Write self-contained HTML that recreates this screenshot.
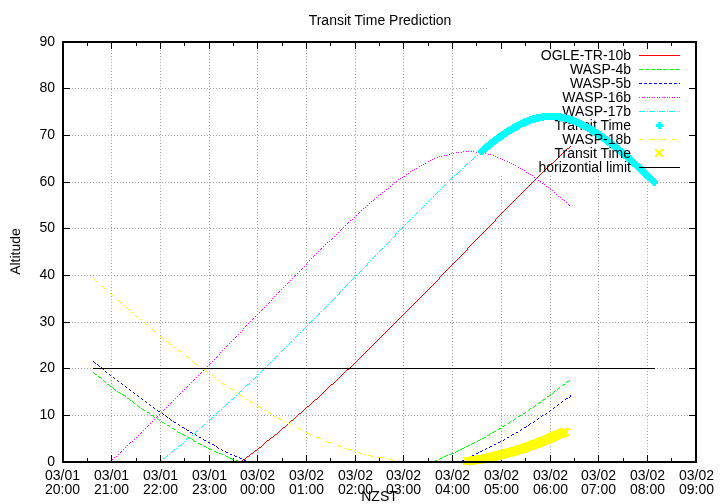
<!DOCTYPE html>
<html><head><meta charset="utf-8"><style>html,body{margin:0;padding:0;background:#fff;overflow:hidden}svg{display:block;will-change:transform}</style></head>
<body><svg width="720" height="504" viewBox="0 0 720 504" shape-rendering="crispEdges">
<rect width="720" height="504" fill="#fff"/>
<path fill="#a0a0a0" d="M111 44h1v1h-1zM160 44h1v1h-1zM209 44h1v1h-1zM257 44h1v1h-1zM306 44h1v1h-1zM355 44h1v1h-1zM403 44h1v1h-1zM452 44h1v1h-1zM111 47h1v1h-1zM160 47h1v1h-1zM209 47h1v1h-1zM257 47h1v1h-1zM306 47h1v1h-1zM355 47h1v1h-1zM403 47h1v1h-1zM452 47h1v1h-1zM111 50h1v1h-1zM160 50h1v1h-1zM209 50h1v1h-1zM257 50h1v1h-1zM306 50h1v1h-1zM355 50h1v1h-1zM403 50h1v1h-1zM452 50h1v1h-1zM111 53h1v1h-1zM160 53h1v1h-1zM209 53h1v1h-1zM257 53h1v1h-1zM306 53h1v1h-1zM355 53h1v1h-1zM403 53h1v1h-1zM452 53h1v1h-1zM111 56h1v1h-1zM160 56h1v1h-1zM209 56h1v1h-1zM257 56h1v1h-1zM306 56h1v1h-1zM355 56h1v1h-1zM403 56h1v1h-1zM452 56h1v1h-1zM111 59h1v1h-1zM160 59h1v1h-1zM209 59h1v1h-1zM257 59h1v1h-1zM306 59h1v1h-1zM355 59h1v1h-1zM403 59h1v1h-1zM452 59h1v1h-1zM111 62h1v1h-1zM160 62h1v1h-1zM209 62h1v1h-1zM257 62h1v1h-1zM306 62h1v1h-1zM355 62h1v1h-1zM403 62h1v1h-1zM452 62h1v1h-1zM111 65h1v1h-1zM160 65h1v1h-1zM209 65h1v1h-1zM257 65h1v1h-1zM306 65h1v1h-1zM355 65h1v1h-1zM403 65h1v1h-1zM452 65h1v1h-1zM111 68h1v1h-1zM160 68h1v1h-1zM209 68h1v1h-1zM257 68h1v1h-1zM306 68h1v1h-1zM355 68h1v1h-1zM403 68h1v1h-1zM452 68h1v1h-1zM111 71h1v1h-1zM160 71h1v1h-1zM209 71h1v1h-1zM257 71h1v1h-1zM306 71h1v1h-1zM355 71h1v1h-1zM403 71h1v1h-1zM452 71h1v1h-1zM111 74h1v1h-1zM160 74h1v1h-1zM209 74h1v1h-1zM257 74h1v1h-1zM306 74h1v1h-1zM355 74h1v1h-1zM403 74h1v1h-1zM452 74h1v1h-1zM111 77h1v1h-1zM160 77h1v1h-1zM209 77h1v1h-1zM257 77h1v1h-1zM306 77h1v1h-1zM355 77h1v1h-1zM403 77h1v1h-1zM452 77h1v1h-1zM111 80h1v1h-1zM160 80h1v1h-1zM209 80h1v1h-1zM257 80h1v1h-1zM306 80h1v1h-1zM355 80h1v1h-1zM403 80h1v1h-1zM452 80h1v1h-1zM111 83h1v1h-1zM160 83h1v1h-1zM209 83h1v1h-1zM257 83h1v1h-1zM306 83h1v1h-1zM355 83h1v1h-1zM403 83h1v1h-1zM452 83h1v1h-1zM111 86h1v1h-1zM160 86h1v1h-1zM209 86h1v1h-1zM257 86h1v1h-1zM306 86h1v1h-1zM355 86h1v1h-1zM403 86h1v1h-1zM452 86h1v1h-1zM63 88h1v1h-1zM66 88h1v1h-1zM69 88h1v1h-1zM72 88h1v1h-1zM75 88h1v1h-1zM78 88h1v1h-1zM81 88h1v1h-1zM84 88h1v1h-1zM87 88h1v1h-1zM90 88h1v1h-1zM93 88h1v1h-1zM96 88h1v1h-1zM99 88h1v1h-1zM102 88h1v1h-1zM105 88h1v1h-1zM108 88h1v1h-1zM111 88h1v1h-1zM114 88h1v1h-1zM117 88h1v1h-1zM120 88h1v1h-1zM123 88h1v1h-1zM126 88h1v1h-1zM129 88h1v1h-1zM132 88h1v1h-1zM135 88h1v1h-1zM138 88h1v1h-1zM141 88h1v1h-1zM144 88h1v1h-1zM147 88h1v1h-1zM150 88h1v1h-1zM153 88h1v1h-1zM156 88h1v1h-1zM159 88h1v1h-1zM162 88h1v1h-1zM165 88h1v1h-1zM168 88h1v1h-1zM171 88h1v1h-1zM174 88h1v1h-1zM177 88h1v1h-1zM180 88h1v1h-1zM183 88h1v1h-1zM186 88h1v1h-1zM189 88h1v1h-1zM192 88h1v1h-1zM195 88h1v1h-1zM198 88h1v1h-1zM201 88h1v1h-1zM204 88h1v1h-1zM207 88h1v1h-1zM210 88h1v1h-1zM213 88h1v1h-1zM216 88h1v1h-1zM219 88h1v1h-1zM222 88h1v1h-1zM225 88h1v1h-1zM228 88h1v1h-1zM231 88h1v1h-1zM234 88h1v1h-1zM237 88h1v1h-1zM240 88h1v1h-1zM243 88h1v1h-1zM246 88h1v1h-1zM249 88h1v1h-1zM252 88h1v1h-1zM255 88h1v1h-1zM258 88h1v1h-1zM261 88h1v1h-1zM264 88h1v1h-1zM267 88h1v1h-1zM270 88h1v1h-1zM273 88h1v1h-1zM276 88h1v1h-1zM279 88h1v1h-1zM282 88h1v1h-1zM285 88h1v1h-1zM288 88h1v1h-1zM291 88h1v1h-1zM294 88h1v1h-1zM297 88h1v1h-1zM300 88h1v1h-1zM303 88h1v1h-1zM306 88h1v1h-1zM309 88h1v1h-1zM312 88h1v1h-1zM315 88h1v1h-1zM318 88h1v1h-1zM321 88h1v1h-1zM324 88h1v1h-1zM327 88h1v1h-1zM330 88h1v1h-1zM333 88h1v1h-1zM336 88h1v1h-1zM339 88h1v1h-1zM342 88h1v1h-1zM345 88h1v1h-1zM348 88h1v1h-1zM351 88h1v1h-1zM354 88h1v1h-1zM357 88h1v1h-1zM360 88h1v1h-1zM363 88h1v1h-1zM366 88h1v1h-1zM369 88h1v1h-1zM372 88h1v1h-1zM375 88h1v1h-1zM378 88h1v1h-1zM381 88h1v1h-1zM384 88h1v1h-1zM387 88h1v1h-1zM390 88h1v1h-1zM393 88h1v1h-1zM396 88h1v1h-1zM399 88h1v1h-1zM402 88h1v1h-1zM405 88h1v1h-1zM408 88h1v1h-1zM411 88h1v1h-1zM414 88h1v1h-1zM417 88h1v1h-1zM420 88h1v1h-1zM423 88h1v1h-1zM426 88h1v1h-1zM429 88h1v1h-1zM432 88h1v1h-1zM435 88h1v1h-1zM438 88h1v1h-1zM441 88h1v1h-1zM444 88h1v1h-1zM447 88h1v1h-1zM450 88h1v1h-1zM453 88h1v1h-1zM456 88h1v1h-1zM459 88h1v1h-1zM462 88h1v1h-1zM465 88h1v1h-1zM468 88h1v1h-1zM471 88h1v1h-1zM474 88h1v1h-1zM477 88h1v1h-1zM480 88h1v1h-1zM483 88h1v1h-1zM486 88h1v1h-1zM111 89h1v1h-1zM160 89h1v1h-1zM209 89h1v1h-1zM257 89h1v1h-1zM306 89h1v1h-1zM355 89h1v1h-1zM403 89h1v1h-1zM452 89h1v1h-1zM111 92h1v1h-1zM160 92h1v1h-1zM209 92h1v1h-1zM257 92h1v1h-1zM306 92h1v1h-1zM355 92h1v1h-1zM403 92h1v1h-1zM452 92h1v1h-1zM111 95h1v1h-1zM160 95h1v1h-1zM209 95h1v1h-1zM257 95h1v1h-1zM306 95h1v1h-1zM355 95h1v1h-1zM403 95h1v1h-1zM452 95h1v1h-1zM111 98h1v1h-1zM160 98h1v1h-1zM209 98h1v1h-1zM257 98h1v1h-1zM306 98h1v1h-1zM355 98h1v1h-1zM403 98h1v1h-1zM452 98h1v1h-1zM111 101h1v1h-1zM160 101h1v1h-1zM209 101h1v1h-1zM257 101h1v1h-1zM306 101h1v1h-1zM355 101h1v1h-1zM403 101h1v1h-1zM452 101h1v1h-1zM111 104h1v1h-1zM160 104h1v1h-1zM209 104h1v1h-1zM257 104h1v1h-1zM306 104h1v1h-1zM355 104h1v1h-1zM403 104h1v1h-1zM452 104h1v1h-1zM111 107h1v1h-1zM160 107h1v1h-1zM209 107h1v1h-1zM257 107h1v1h-1zM306 107h1v1h-1zM355 107h1v1h-1zM403 107h1v1h-1zM452 107h1v1h-1zM111 110h1v1h-1zM160 110h1v1h-1zM209 110h1v1h-1zM257 110h1v1h-1zM306 110h1v1h-1zM355 110h1v1h-1zM403 110h1v1h-1zM452 110h1v1h-1zM111 113h1v1h-1zM160 113h1v1h-1zM209 113h1v1h-1zM257 113h1v1h-1zM306 113h1v1h-1zM355 113h1v1h-1zM403 113h1v1h-1zM452 113h1v1h-1zM111 116h1v1h-1zM160 116h1v1h-1zM209 116h1v1h-1zM257 116h1v1h-1zM306 116h1v1h-1zM355 116h1v1h-1zM403 116h1v1h-1zM452 116h1v1h-1zM111 119h1v1h-1zM160 119h1v1h-1zM209 119h1v1h-1zM257 119h1v1h-1zM306 119h1v1h-1zM355 119h1v1h-1zM403 119h1v1h-1zM452 119h1v1h-1zM111 122h1v1h-1zM160 122h1v1h-1zM209 122h1v1h-1zM257 122h1v1h-1zM306 122h1v1h-1zM355 122h1v1h-1zM403 122h1v1h-1zM452 122h1v1h-1zM111 125h1v1h-1zM160 125h1v1h-1zM209 125h1v1h-1zM257 125h1v1h-1zM306 125h1v1h-1zM355 125h1v1h-1zM403 125h1v1h-1zM452 125h1v1h-1zM111 128h1v1h-1zM160 128h1v1h-1zM209 128h1v1h-1zM257 128h1v1h-1zM306 128h1v1h-1zM355 128h1v1h-1zM403 128h1v1h-1zM452 128h1v1h-1zM111 131h1v1h-1zM160 131h1v1h-1zM209 131h1v1h-1zM257 131h1v1h-1zM306 131h1v1h-1zM355 131h1v1h-1zM403 131h1v1h-1zM452 131h1v1h-1zM111 134h1v1h-1zM160 134h1v1h-1zM209 134h1v1h-1zM257 134h1v1h-1zM306 134h1v1h-1zM355 134h1v1h-1zM403 134h1v1h-1zM452 134h1v1h-1zM63 135h1v1h-1zM66 135h1v1h-1zM69 135h1v1h-1zM72 135h1v1h-1zM75 135h1v1h-1zM78 135h1v1h-1zM81 135h1v1h-1zM84 135h1v1h-1zM87 135h1v1h-1zM90 135h1v1h-1zM93 135h1v1h-1zM96 135h1v1h-1zM99 135h1v1h-1zM102 135h1v1h-1zM105 135h1v1h-1zM108 135h1v1h-1zM111 135h1v1h-1zM114 135h1v1h-1zM117 135h1v1h-1zM120 135h1v1h-1zM123 135h1v1h-1zM126 135h1v1h-1zM129 135h1v1h-1zM132 135h1v1h-1zM135 135h1v1h-1zM138 135h1v1h-1zM141 135h1v1h-1zM144 135h1v1h-1zM147 135h1v1h-1zM150 135h1v1h-1zM153 135h1v1h-1zM156 135h1v1h-1zM159 135h1v1h-1zM162 135h1v1h-1zM165 135h1v1h-1zM168 135h1v1h-1zM171 135h1v1h-1zM174 135h1v1h-1zM177 135h1v1h-1zM180 135h1v1h-1zM183 135h1v1h-1zM186 135h1v1h-1zM189 135h1v1h-1zM192 135h1v1h-1zM195 135h1v1h-1zM198 135h1v1h-1zM201 135h1v1h-1zM204 135h1v1h-1zM207 135h1v1h-1zM210 135h1v1h-1zM213 135h1v1h-1zM216 135h1v1h-1zM219 135h1v1h-1zM222 135h1v1h-1zM225 135h1v1h-1zM228 135h1v1h-1zM231 135h1v1h-1zM234 135h1v1h-1zM237 135h1v1h-1zM240 135h1v1h-1zM243 135h1v1h-1zM246 135h1v1h-1zM249 135h1v1h-1zM252 135h1v1h-1zM255 135h1v1h-1zM258 135h1v1h-1zM261 135h1v1h-1zM264 135h1v1h-1zM267 135h1v1h-1zM270 135h1v1h-1zM273 135h1v1h-1zM276 135h1v1h-1zM279 135h1v1h-1zM282 135h1v1h-1zM285 135h1v1h-1zM288 135h1v1h-1zM291 135h1v1h-1zM294 135h1v1h-1zM297 135h1v1h-1zM300 135h1v1h-1zM303 135h1v1h-1zM306 135h1v1h-1zM309 135h1v1h-1zM312 135h1v1h-1zM315 135h1v1h-1zM318 135h1v1h-1zM321 135h1v1h-1zM324 135h1v1h-1zM327 135h1v1h-1zM330 135h1v1h-1zM333 135h1v1h-1zM336 135h1v1h-1zM339 135h1v1h-1zM342 135h1v1h-1zM345 135h1v1h-1zM348 135h1v1h-1zM351 135h1v1h-1zM354 135h1v1h-1zM357 135h1v1h-1zM360 135h1v1h-1zM363 135h1v1h-1zM366 135h1v1h-1zM369 135h1v1h-1zM372 135h1v1h-1zM375 135h1v1h-1zM378 135h1v1h-1zM381 135h1v1h-1zM384 135h1v1h-1zM387 135h1v1h-1zM390 135h1v1h-1zM393 135h1v1h-1zM396 135h1v1h-1zM399 135h1v1h-1zM402 135h1v1h-1zM405 135h1v1h-1zM408 135h1v1h-1zM411 135h1v1h-1zM414 135h1v1h-1zM417 135h1v1h-1zM420 135h1v1h-1zM423 135h1v1h-1zM426 135h1v1h-1zM429 135h1v1h-1zM432 135h1v1h-1zM435 135h1v1h-1zM438 135h1v1h-1zM441 135h1v1h-1zM444 135h1v1h-1zM447 135h1v1h-1zM450 135h1v1h-1zM453 135h1v1h-1zM456 135h1v1h-1zM459 135h1v1h-1zM462 135h1v1h-1zM465 135h1v1h-1zM468 135h1v1h-1zM471 135h1v1h-1zM474 135h1v1h-1zM477 135h1v1h-1zM480 135h1v1h-1zM483 135h1v1h-1zM486 135h1v1h-1zM111 137h1v1h-1zM160 137h1v1h-1zM209 137h1v1h-1zM257 137h1v1h-1zM306 137h1v1h-1zM355 137h1v1h-1zM403 137h1v1h-1zM452 137h1v1h-1zM111 140h1v1h-1zM160 140h1v1h-1zM209 140h1v1h-1zM257 140h1v1h-1zM306 140h1v1h-1zM355 140h1v1h-1zM403 140h1v1h-1zM452 140h1v1h-1zM111 143h1v1h-1zM160 143h1v1h-1zM209 143h1v1h-1zM257 143h1v1h-1zM306 143h1v1h-1zM355 143h1v1h-1zM403 143h1v1h-1zM452 143h1v1h-1zM111 146h1v1h-1zM160 146h1v1h-1zM209 146h1v1h-1zM257 146h1v1h-1zM306 146h1v1h-1zM355 146h1v1h-1zM403 146h1v1h-1zM452 146h1v1h-1zM111 149h1v1h-1zM160 149h1v1h-1zM209 149h1v1h-1zM257 149h1v1h-1zM306 149h1v1h-1zM355 149h1v1h-1zM403 149h1v1h-1zM452 149h1v1h-1zM111 152h1v1h-1zM160 152h1v1h-1zM209 152h1v1h-1zM257 152h1v1h-1zM306 152h1v1h-1zM355 152h1v1h-1zM403 152h1v1h-1zM452 152h1v1h-1zM111 155h1v1h-1zM160 155h1v1h-1zM209 155h1v1h-1zM257 155h1v1h-1zM306 155h1v1h-1zM355 155h1v1h-1zM403 155h1v1h-1zM452 155h1v1h-1zM111 158h1v1h-1zM160 158h1v1h-1zM209 158h1v1h-1zM257 158h1v1h-1zM306 158h1v1h-1zM355 158h1v1h-1zM403 158h1v1h-1zM452 158h1v1h-1zM111 161h1v1h-1zM160 161h1v1h-1zM209 161h1v1h-1zM257 161h1v1h-1zM306 161h1v1h-1zM355 161h1v1h-1zM403 161h1v1h-1zM452 161h1v1h-1zM111 164h1v1h-1zM160 164h1v1h-1zM209 164h1v1h-1zM257 164h1v1h-1zM306 164h1v1h-1zM355 164h1v1h-1zM403 164h1v1h-1zM452 164h1v1h-1zM111 167h1v1h-1zM160 167h1v1h-1zM209 167h1v1h-1zM257 167h1v1h-1zM306 167h1v1h-1zM355 167h1v1h-1zM403 167h1v1h-1zM452 167h1v1h-1zM111 170h1v1h-1zM160 170h1v1h-1zM209 170h1v1h-1zM257 170h1v1h-1zM306 170h1v1h-1zM355 170h1v1h-1zM403 170h1v1h-1zM452 170h1v1h-1zM111 173h1v1h-1zM160 173h1v1h-1zM209 173h1v1h-1zM257 173h1v1h-1zM306 173h1v1h-1zM355 173h1v1h-1zM403 173h1v1h-1zM452 173h1v1h-1zM111 176h1v1h-1zM160 176h1v1h-1zM209 176h1v1h-1zM257 176h1v1h-1zM306 176h1v1h-1zM355 176h1v1h-1zM403 176h1v1h-1zM452 176h1v1h-1zM501 176h1v1h-1zM550 176h1v1h-1zM598 176h1v1h-1zM647 176h1v1h-1zM111 179h1v1h-1zM160 179h1v1h-1zM209 179h1v1h-1zM257 179h1v1h-1zM306 179h1v1h-1zM355 179h1v1h-1zM403 179h1v1h-1zM452 179h1v1h-1zM501 179h1v1h-1zM550 179h1v1h-1zM598 179h1v1h-1zM647 179h1v1h-1zM63 182h1v1h-1zM66 182h1v1h-1zM69 182h1v1h-1zM72 182h1v1h-1zM75 182h1v1h-1zM78 182h1v1h-1zM81 182h1v1h-1zM84 182h1v1h-1zM87 182h1v1h-1zM90 182h1v1h-1zM93 182h1v1h-1zM96 182h1v1h-1zM99 182h1v1h-1zM102 182h1v1h-1zM105 182h1v1h-1zM108 182h1v1h-1zM111 182h1v1h-1zM114 182h1v1h-1zM117 182h1v1h-1zM120 182h1v1h-1zM123 182h1v1h-1zM126 182h1v1h-1zM129 182h1v1h-1zM132 182h1v1h-1zM135 182h1v1h-1zM138 182h1v1h-1zM141 182h1v1h-1zM144 182h1v1h-1zM147 182h1v1h-1zM150 182h1v1h-1zM153 182h1v1h-1zM156 182h1v1h-1zM159 182h2v1h-2zM162 182h1v1h-1zM165 182h1v1h-1zM168 182h1v1h-1zM171 182h1v1h-1zM174 182h1v1h-1zM177 182h1v1h-1zM180 182h1v1h-1zM183 182h1v1h-1zM186 182h1v1h-1zM189 182h1v1h-1zM192 182h1v1h-1zM195 182h1v1h-1zM198 182h1v1h-1zM201 182h1v1h-1zM204 182h1v1h-1zM207 182h1v1h-1zM209 182h2v1h-2zM213 182h1v1h-1zM216 182h1v1h-1zM219 182h1v1h-1zM222 182h1v1h-1zM225 182h1v1h-1zM228 182h1v1h-1zM231 182h1v1h-1zM234 182h1v1h-1zM237 182h1v1h-1zM240 182h1v1h-1zM243 182h1v1h-1zM246 182h1v1h-1zM249 182h1v1h-1zM252 182h1v1h-1zM255 182h1v1h-1zM257 182h2v1h-2zM261 182h1v1h-1zM264 182h1v1h-1zM267 182h1v1h-1zM270 182h1v1h-1zM273 182h1v1h-1zM276 182h1v1h-1zM279 182h1v1h-1zM282 182h1v1h-1zM285 182h1v1h-1zM288 182h1v1h-1zM291 182h1v1h-1zM294 182h1v1h-1zM297 182h1v1h-1zM300 182h1v1h-1zM303 182h1v1h-1zM306 182h1v1h-1zM309 182h1v1h-1zM312 182h1v1h-1zM315 182h1v1h-1zM318 182h1v1h-1zM321 182h1v1h-1zM324 182h1v1h-1zM327 182h1v1h-1zM330 182h1v1h-1zM333 182h1v1h-1zM336 182h1v1h-1zM339 182h1v1h-1zM342 182h1v1h-1zM345 182h1v1h-1zM348 182h1v1h-1zM351 182h1v1h-1zM354 182h2v1h-2zM357 182h1v1h-1zM360 182h1v1h-1zM363 182h1v1h-1zM366 182h1v1h-1zM369 182h1v1h-1zM372 182h1v1h-1zM375 182h1v1h-1zM378 182h1v1h-1zM381 182h1v1h-1zM384 182h1v1h-1zM387 182h1v1h-1zM390 182h1v1h-1zM393 182h1v1h-1zM396 182h1v1h-1zM399 182h1v1h-1zM402 182h2v1h-2zM405 182h1v1h-1zM408 182h1v1h-1zM411 182h1v1h-1zM414 182h1v1h-1zM417 182h1v1h-1zM420 182h1v1h-1zM423 182h1v1h-1zM426 182h1v1h-1zM429 182h1v1h-1zM432 182h1v1h-1zM435 182h1v1h-1zM438 182h1v1h-1zM441 182h1v1h-1zM444 182h1v1h-1zM447 182h1v1h-1zM450 182h1v1h-1zM452 182h2v1h-2zM456 182h1v1h-1zM459 182h1v1h-1zM462 182h1v1h-1zM465 182h1v1h-1zM468 182h1v1h-1zM471 182h1v1h-1zM474 182h1v1h-1zM477 182h1v1h-1zM480 182h1v1h-1zM483 182h1v1h-1zM486 182h1v1h-1zM489 182h1v1h-1zM492 182h1v1h-1zM495 182h1v1h-1zM498 182h1v1h-1zM501 182h1v1h-1zM504 182h1v1h-1zM507 182h1v1h-1zM510 182h1v1h-1zM513 182h1v1h-1zM516 182h1v1h-1zM519 182h1v1h-1zM522 182h1v1h-1zM525 182h1v1h-1zM528 182h1v1h-1zM531 182h1v1h-1zM534 182h1v1h-1zM537 182h1v1h-1zM540 182h1v1h-1zM543 182h1v1h-1zM546 182h1v1h-1zM549 182h2v1h-2zM552 182h1v1h-1zM555 182h1v1h-1zM558 182h1v1h-1zM561 182h1v1h-1zM564 182h1v1h-1zM567 182h1v1h-1zM570 182h1v1h-1zM573 182h1v1h-1zM576 182h1v1h-1zM579 182h1v1h-1zM582 182h1v1h-1zM585 182h1v1h-1zM588 182h1v1h-1zM591 182h1v1h-1zM594 182h1v1h-1zM597 182h2v1h-2zM600 182h1v1h-1zM603 182h1v1h-1zM606 182h1v1h-1zM609 182h1v1h-1zM612 182h1v1h-1zM615 182h1v1h-1zM618 182h1v1h-1zM621 182h1v1h-1zM624 182h1v1h-1zM627 182h1v1h-1zM630 182h1v1h-1zM633 182h1v1h-1zM636 182h1v1h-1zM639 182h1v1h-1zM642 182h1v1h-1zM645 182h1v1h-1zM647 182h2v1h-2zM651 182h1v1h-1zM654 182h1v1h-1zM657 182h1v1h-1zM660 182h1v1h-1zM663 182h1v1h-1zM666 182h1v1h-1zM669 182h1v1h-1zM672 182h1v1h-1zM675 182h1v1h-1zM678 182h1v1h-1zM681 182h1v1h-1zM684 182h1v1h-1zM687 182h1v1h-1zM690 182h1v1h-1zM693 182h1v1h-1zM111 185h1v1h-1zM160 185h1v1h-1zM209 185h1v1h-1zM257 185h1v1h-1zM306 185h1v1h-1zM355 185h1v1h-1zM403 185h1v1h-1zM452 185h1v1h-1zM501 185h1v1h-1zM550 185h1v1h-1zM598 185h1v1h-1zM647 185h1v1h-1zM111 188h1v1h-1zM160 188h1v1h-1zM209 188h1v1h-1zM257 188h1v1h-1zM306 188h1v1h-1zM355 188h1v1h-1zM403 188h1v1h-1zM452 188h1v1h-1zM501 188h1v1h-1zM550 188h1v1h-1zM598 188h1v1h-1zM647 188h1v1h-1zM111 191h1v1h-1zM160 191h1v1h-1zM209 191h1v1h-1zM257 191h1v1h-1zM306 191h1v1h-1zM355 191h1v1h-1zM403 191h1v1h-1zM452 191h1v1h-1zM501 191h1v1h-1zM550 191h1v1h-1zM598 191h1v1h-1zM647 191h1v1h-1zM111 194h1v1h-1zM160 194h1v1h-1zM209 194h1v1h-1zM257 194h1v1h-1zM306 194h1v1h-1zM355 194h1v1h-1zM403 194h1v1h-1zM452 194h1v1h-1zM501 194h1v1h-1zM550 194h1v1h-1zM598 194h1v1h-1zM647 194h1v1h-1zM111 197h1v1h-1zM160 197h1v1h-1zM209 197h1v1h-1zM257 197h1v1h-1zM306 197h1v1h-1zM355 197h1v1h-1zM403 197h1v1h-1zM452 197h1v1h-1zM501 197h1v1h-1zM550 197h1v1h-1zM598 197h1v1h-1zM647 197h1v1h-1zM111 200h1v1h-1zM160 200h1v1h-1zM209 200h1v1h-1zM257 200h1v1h-1zM306 200h1v1h-1zM355 200h1v1h-1zM403 200h1v1h-1zM452 200h1v1h-1zM501 200h1v1h-1zM550 200h1v1h-1zM598 200h1v1h-1zM647 200h1v1h-1zM111 203h1v1h-1zM160 203h1v1h-1zM209 203h1v1h-1zM257 203h1v1h-1zM306 203h1v1h-1zM355 203h1v1h-1zM403 203h1v1h-1zM452 203h1v1h-1zM501 203h1v1h-1zM550 203h1v1h-1zM598 203h1v1h-1zM647 203h1v1h-1zM111 206h1v1h-1zM160 206h1v1h-1zM209 206h1v1h-1zM257 206h1v1h-1zM306 206h1v1h-1zM355 206h1v1h-1zM403 206h1v1h-1zM452 206h1v1h-1zM501 206h1v1h-1zM550 206h1v1h-1zM598 206h1v1h-1zM647 206h1v1h-1zM111 209h1v1h-1zM160 209h1v1h-1zM209 209h1v1h-1zM257 209h1v1h-1zM306 209h1v1h-1zM355 209h1v1h-1zM403 209h1v1h-1zM452 209h1v1h-1zM501 209h1v1h-1zM550 209h1v1h-1zM598 209h1v1h-1zM647 209h1v1h-1zM111 212h1v1h-1zM160 212h1v1h-1zM209 212h1v1h-1zM257 212h1v1h-1zM306 212h1v1h-1zM355 212h1v1h-1zM403 212h1v1h-1zM452 212h1v1h-1zM501 212h1v1h-1zM550 212h1v1h-1zM598 212h1v1h-1zM647 212h1v1h-1zM111 215h1v1h-1zM160 215h1v1h-1zM209 215h1v1h-1zM257 215h1v1h-1zM306 215h1v1h-1zM355 215h1v1h-1zM403 215h1v1h-1zM452 215h1v1h-1zM501 215h1v1h-1zM550 215h1v1h-1zM598 215h1v1h-1zM647 215h1v1h-1zM111 218h1v1h-1zM160 218h1v1h-1zM209 218h1v1h-1zM257 218h1v1h-1zM306 218h1v1h-1zM355 218h1v1h-1zM403 218h1v1h-1zM452 218h1v1h-1zM501 218h1v1h-1zM550 218h1v1h-1zM598 218h1v1h-1zM647 218h1v1h-1zM111 221h1v1h-1zM160 221h1v1h-1zM209 221h1v1h-1zM257 221h1v1h-1zM306 221h1v1h-1zM355 221h1v1h-1zM403 221h1v1h-1zM452 221h1v1h-1zM501 221h1v1h-1zM550 221h1v1h-1zM598 221h1v1h-1zM647 221h1v1h-1zM111 224h1v1h-1zM160 224h1v1h-1zM209 224h1v1h-1zM257 224h1v1h-1zM306 224h1v1h-1zM355 224h1v1h-1zM403 224h1v1h-1zM452 224h1v1h-1zM501 224h1v1h-1zM550 224h1v1h-1zM598 224h1v1h-1zM647 224h1v1h-1zM111 227h1v1h-1zM160 227h1v1h-1zM209 227h1v1h-1zM257 227h1v1h-1zM306 227h1v1h-1zM355 227h1v1h-1zM403 227h1v1h-1zM452 227h1v1h-1zM501 227h1v1h-1zM550 227h1v1h-1zM598 227h1v1h-1zM647 227h1v1h-1zM63 228h1v1h-1zM66 228h1v1h-1zM69 228h1v1h-1zM72 228h1v1h-1zM75 228h1v1h-1zM78 228h1v1h-1zM81 228h1v1h-1zM84 228h1v1h-1zM87 228h1v1h-1zM90 228h1v1h-1zM93 228h1v1h-1zM96 228h1v1h-1zM99 228h1v1h-1zM102 228h1v1h-1zM105 228h1v1h-1zM108 228h1v1h-1zM111 228h1v1h-1zM114 228h1v1h-1zM117 228h1v1h-1zM120 228h1v1h-1zM123 228h1v1h-1zM126 228h1v1h-1zM129 228h1v1h-1zM132 228h1v1h-1zM135 228h1v1h-1zM138 228h1v1h-1zM141 228h1v1h-1zM144 228h1v1h-1zM147 228h1v1h-1zM150 228h1v1h-1zM153 228h1v1h-1zM156 228h1v1h-1zM159 228h1v1h-1zM162 228h1v1h-1zM165 228h1v1h-1zM168 228h1v1h-1zM171 228h1v1h-1zM174 228h1v1h-1zM177 228h1v1h-1zM180 228h1v1h-1zM183 228h1v1h-1zM186 228h1v1h-1zM189 228h1v1h-1zM192 228h1v1h-1zM195 228h1v1h-1zM198 228h1v1h-1zM201 228h1v1h-1zM204 228h1v1h-1zM207 228h1v1h-1zM210 228h1v1h-1zM213 228h1v1h-1zM216 228h1v1h-1zM219 228h1v1h-1zM222 228h1v1h-1zM225 228h1v1h-1zM228 228h1v1h-1zM231 228h1v1h-1zM234 228h1v1h-1zM237 228h1v1h-1zM240 228h1v1h-1zM243 228h1v1h-1zM246 228h1v1h-1zM249 228h1v1h-1zM252 228h1v1h-1zM255 228h1v1h-1zM258 228h1v1h-1zM261 228h1v1h-1zM264 228h1v1h-1zM267 228h1v1h-1zM270 228h1v1h-1zM273 228h1v1h-1zM276 228h1v1h-1zM279 228h1v1h-1zM282 228h1v1h-1zM285 228h1v1h-1zM288 228h1v1h-1zM291 228h1v1h-1zM294 228h1v1h-1zM297 228h1v1h-1zM300 228h1v1h-1zM303 228h1v1h-1zM306 228h1v1h-1zM309 228h1v1h-1zM312 228h1v1h-1zM315 228h1v1h-1zM318 228h1v1h-1zM321 228h1v1h-1zM324 228h1v1h-1zM327 228h1v1h-1zM330 228h1v1h-1zM333 228h1v1h-1zM336 228h1v1h-1zM339 228h1v1h-1zM342 228h1v1h-1zM345 228h1v1h-1zM348 228h1v1h-1zM351 228h1v1h-1zM354 228h1v1h-1zM357 228h1v1h-1zM360 228h1v1h-1zM363 228h1v1h-1zM366 228h1v1h-1zM369 228h1v1h-1zM372 228h1v1h-1zM375 228h1v1h-1zM378 228h1v1h-1zM381 228h1v1h-1zM384 228h1v1h-1zM387 228h1v1h-1zM390 228h1v1h-1zM393 228h1v1h-1zM396 228h1v1h-1zM399 228h1v1h-1zM402 228h1v1h-1zM405 228h1v1h-1zM408 228h1v1h-1zM411 228h1v1h-1zM414 228h1v1h-1zM417 228h1v1h-1zM420 228h1v1h-1zM423 228h1v1h-1zM426 228h1v1h-1zM429 228h1v1h-1zM432 228h1v1h-1zM435 228h1v1h-1zM438 228h1v1h-1zM441 228h1v1h-1zM444 228h1v1h-1zM447 228h1v1h-1zM450 228h1v1h-1zM453 228h1v1h-1zM456 228h1v1h-1zM459 228h1v1h-1zM462 228h1v1h-1zM465 228h1v1h-1zM468 228h1v1h-1zM471 228h1v1h-1zM474 228h1v1h-1zM477 228h1v1h-1zM480 228h1v1h-1zM483 228h1v1h-1zM486 228h1v1h-1zM489 228h1v1h-1zM492 228h1v1h-1zM495 228h1v1h-1zM498 228h1v1h-1zM501 228h1v1h-1zM504 228h1v1h-1zM507 228h1v1h-1zM510 228h1v1h-1zM513 228h1v1h-1zM516 228h1v1h-1zM519 228h1v1h-1zM522 228h1v1h-1zM525 228h1v1h-1zM528 228h1v1h-1zM531 228h1v1h-1zM534 228h1v1h-1zM537 228h1v1h-1zM540 228h1v1h-1zM543 228h1v1h-1zM546 228h1v1h-1zM549 228h1v1h-1zM552 228h1v1h-1zM555 228h1v1h-1zM558 228h1v1h-1zM561 228h1v1h-1zM564 228h1v1h-1zM567 228h1v1h-1zM570 228h1v1h-1zM573 228h1v1h-1zM576 228h1v1h-1zM579 228h1v1h-1zM582 228h1v1h-1zM585 228h1v1h-1zM588 228h1v1h-1zM591 228h1v1h-1zM594 228h1v1h-1zM597 228h1v1h-1zM600 228h1v1h-1zM603 228h1v1h-1zM606 228h1v1h-1zM609 228h1v1h-1zM612 228h1v1h-1zM615 228h1v1h-1zM618 228h1v1h-1zM621 228h1v1h-1zM624 228h1v1h-1zM627 228h1v1h-1zM630 228h1v1h-1zM633 228h1v1h-1zM636 228h1v1h-1zM639 228h1v1h-1zM642 228h1v1h-1zM645 228h1v1h-1zM648 228h1v1h-1zM651 228h1v1h-1zM654 228h1v1h-1zM657 228h1v1h-1zM660 228h1v1h-1zM663 228h1v1h-1zM666 228h1v1h-1zM669 228h1v1h-1zM672 228h1v1h-1zM675 228h1v1h-1zM678 228h1v1h-1zM681 228h1v1h-1zM684 228h1v1h-1zM687 228h1v1h-1zM690 228h1v1h-1zM693 228h1v1h-1zM111 230h1v1h-1zM160 230h1v1h-1zM209 230h1v1h-1zM257 230h1v1h-1zM306 230h1v1h-1zM355 230h1v1h-1zM403 230h1v1h-1zM452 230h1v1h-1zM501 230h1v1h-1zM550 230h1v1h-1zM598 230h1v1h-1zM647 230h1v1h-1zM111 233h1v1h-1zM160 233h1v1h-1zM209 233h1v1h-1zM257 233h1v1h-1zM306 233h1v1h-1zM355 233h1v1h-1zM403 233h1v1h-1zM452 233h1v1h-1zM501 233h1v1h-1zM550 233h1v1h-1zM598 233h1v1h-1zM647 233h1v1h-1zM111 236h1v1h-1zM160 236h1v1h-1zM209 236h1v1h-1zM257 236h1v1h-1zM306 236h1v1h-1zM355 236h1v1h-1zM403 236h1v1h-1zM452 236h1v1h-1zM501 236h1v1h-1zM550 236h1v1h-1zM598 236h1v1h-1zM647 236h1v1h-1zM111 239h1v1h-1zM160 239h1v1h-1zM209 239h1v1h-1zM257 239h1v1h-1zM306 239h1v1h-1zM355 239h1v1h-1zM403 239h1v1h-1zM452 239h1v1h-1zM501 239h1v1h-1zM550 239h1v1h-1zM598 239h1v1h-1zM647 239h1v1h-1zM111 242h1v1h-1zM160 242h1v1h-1zM209 242h1v1h-1zM257 242h1v1h-1zM306 242h1v1h-1zM355 242h1v1h-1zM403 242h1v1h-1zM452 242h1v1h-1zM501 242h1v1h-1zM550 242h1v1h-1zM598 242h1v1h-1zM647 242h1v1h-1zM111 245h1v1h-1zM160 245h1v1h-1zM209 245h1v1h-1zM257 245h1v1h-1zM306 245h1v1h-1zM355 245h1v1h-1zM403 245h1v1h-1zM452 245h1v1h-1zM501 245h1v1h-1zM550 245h1v1h-1zM598 245h1v1h-1zM647 245h1v1h-1zM111 248h1v1h-1zM160 248h1v1h-1zM209 248h1v1h-1zM257 248h1v1h-1zM306 248h1v1h-1zM355 248h1v1h-1zM403 248h1v1h-1zM452 248h1v1h-1zM501 248h1v1h-1zM550 248h1v1h-1zM598 248h1v1h-1zM647 248h1v1h-1zM111 251h1v1h-1zM160 251h1v1h-1zM209 251h1v1h-1zM257 251h1v1h-1zM306 251h1v1h-1zM355 251h1v1h-1zM403 251h1v1h-1zM452 251h1v1h-1zM501 251h1v1h-1zM550 251h1v1h-1zM598 251h1v1h-1zM647 251h1v1h-1zM111 254h1v1h-1zM160 254h1v1h-1zM209 254h1v1h-1zM257 254h1v1h-1zM306 254h1v1h-1zM355 254h1v1h-1zM403 254h1v1h-1zM452 254h1v1h-1zM501 254h1v1h-1zM550 254h1v1h-1zM598 254h1v1h-1zM647 254h1v1h-1zM111 257h1v1h-1zM160 257h1v1h-1zM209 257h1v1h-1zM257 257h1v1h-1zM306 257h1v1h-1zM355 257h1v1h-1zM403 257h1v1h-1zM452 257h1v1h-1zM501 257h1v1h-1zM550 257h1v1h-1zM598 257h1v1h-1zM647 257h1v1h-1zM111 260h1v1h-1zM160 260h1v1h-1zM209 260h1v1h-1zM257 260h1v1h-1zM306 260h1v1h-1zM355 260h1v1h-1zM403 260h1v1h-1zM452 260h1v1h-1zM501 260h1v1h-1zM550 260h1v1h-1zM598 260h1v1h-1zM647 260h1v1h-1zM111 263h1v1h-1zM160 263h1v1h-1zM209 263h1v1h-1zM257 263h1v1h-1zM306 263h1v1h-1zM355 263h1v1h-1zM403 263h1v1h-1zM452 263h1v1h-1zM501 263h1v1h-1zM550 263h1v1h-1zM598 263h1v1h-1zM647 263h1v1h-1zM111 266h1v1h-1zM160 266h1v1h-1zM209 266h1v1h-1zM257 266h1v1h-1zM306 266h1v1h-1zM355 266h1v1h-1zM403 266h1v1h-1zM452 266h1v1h-1zM501 266h1v1h-1zM550 266h1v1h-1zM598 266h1v1h-1zM647 266h1v1h-1zM111 269h1v1h-1zM160 269h1v1h-1zM209 269h1v1h-1zM257 269h1v1h-1zM306 269h1v1h-1zM355 269h1v1h-1zM403 269h1v1h-1zM452 269h1v1h-1zM501 269h1v1h-1zM550 269h1v1h-1zM598 269h1v1h-1zM647 269h1v1h-1zM111 272h1v1h-1zM160 272h1v1h-1zM209 272h1v1h-1zM257 272h1v1h-1zM306 272h1v1h-1zM355 272h1v1h-1zM403 272h1v1h-1zM452 272h1v1h-1zM501 272h1v1h-1zM550 272h1v1h-1zM598 272h1v1h-1zM647 272h1v1h-1zM63 275h1v1h-1zM66 275h1v1h-1zM69 275h1v1h-1zM72 275h1v1h-1zM75 275h1v1h-1zM78 275h1v1h-1zM81 275h1v1h-1zM84 275h1v1h-1zM87 275h1v1h-1zM90 275h1v1h-1zM93 275h1v1h-1zM96 275h1v1h-1zM99 275h1v1h-1zM102 275h1v1h-1zM105 275h1v1h-1zM108 275h1v1h-1zM111 275h1v1h-1zM114 275h1v1h-1zM117 275h1v1h-1zM120 275h1v1h-1zM123 275h1v1h-1zM126 275h1v1h-1zM129 275h1v1h-1zM132 275h1v1h-1zM135 275h1v1h-1zM138 275h1v1h-1zM141 275h1v1h-1zM144 275h1v1h-1zM147 275h1v1h-1zM150 275h1v1h-1zM153 275h1v1h-1zM156 275h1v1h-1zM159 275h2v1h-2zM162 275h1v1h-1zM165 275h1v1h-1zM168 275h1v1h-1zM171 275h1v1h-1zM174 275h1v1h-1zM177 275h1v1h-1zM180 275h1v1h-1zM183 275h1v1h-1zM186 275h1v1h-1zM189 275h1v1h-1zM192 275h1v1h-1zM195 275h1v1h-1zM198 275h1v1h-1zM201 275h1v1h-1zM204 275h1v1h-1zM207 275h1v1h-1zM209 275h2v1h-2zM213 275h1v1h-1zM216 275h1v1h-1zM219 275h1v1h-1zM222 275h1v1h-1zM225 275h1v1h-1zM228 275h1v1h-1zM231 275h1v1h-1zM234 275h1v1h-1zM237 275h1v1h-1zM240 275h1v1h-1zM243 275h1v1h-1zM246 275h1v1h-1zM249 275h1v1h-1zM252 275h1v1h-1zM255 275h1v1h-1zM257 275h2v1h-2zM261 275h1v1h-1zM264 275h1v1h-1zM267 275h1v1h-1zM270 275h1v1h-1zM273 275h1v1h-1zM276 275h1v1h-1zM279 275h1v1h-1zM282 275h1v1h-1zM285 275h1v1h-1zM288 275h1v1h-1zM291 275h1v1h-1zM294 275h1v1h-1zM297 275h1v1h-1zM300 275h1v1h-1zM303 275h1v1h-1zM306 275h1v1h-1zM309 275h1v1h-1zM312 275h1v1h-1zM315 275h1v1h-1zM318 275h1v1h-1zM321 275h1v1h-1zM324 275h1v1h-1zM327 275h1v1h-1zM330 275h1v1h-1zM333 275h1v1h-1zM336 275h1v1h-1zM339 275h1v1h-1zM342 275h1v1h-1zM345 275h1v1h-1zM348 275h1v1h-1zM351 275h1v1h-1zM354 275h2v1h-2zM357 275h1v1h-1zM360 275h1v1h-1zM363 275h1v1h-1zM366 275h1v1h-1zM369 275h1v1h-1zM372 275h1v1h-1zM375 275h1v1h-1zM378 275h1v1h-1zM381 275h1v1h-1zM384 275h1v1h-1zM387 275h1v1h-1zM390 275h1v1h-1zM393 275h1v1h-1zM396 275h1v1h-1zM399 275h1v1h-1zM402 275h2v1h-2zM405 275h1v1h-1zM408 275h1v1h-1zM411 275h1v1h-1zM414 275h1v1h-1zM417 275h1v1h-1zM420 275h1v1h-1zM423 275h1v1h-1zM426 275h1v1h-1zM429 275h1v1h-1zM432 275h1v1h-1zM435 275h1v1h-1zM438 275h1v1h-1zM441 275h1v1h-1zM444 275h1v1h-1zM447 275h1v1h-1zM450 275h1v1h-1zM452 275h2v1h-2zM456 275h1v1h-1zM459 275h1v1h-1zM462 275h1v1h-1zM465 275h1v1h-1zM468 275h1v1h-1zM471 275h1v1h-1zM474 275h1v1h-1zM477 275h1v1h-1zM480 275h1v1h-1zM483 275h1v1h-1zM486 275h1v1h-1zM489 275h1v1h-1zM492 275h1v1h-1zM495 275h1v1h-1zM498 275h1v1h-1zM501 275h1v1h-1zM504 275h1v1h-1zM507 275h1v1h-1zM510 275h1v1h-1zM513 275h1v1h-1zM516 275h1v1h-1zM519 275h1v1h-1zM522 275h1v1h-1zM525 275h1v1h-1zM528 275h1v1h-1zM531 275h1v1h-1zM534 275h1v1h-1zM537 275h1v1h-1zM540 275h1v1h-1zM543 275h1v1h-1zM546 275h1v1h-1zM549 275h2v1h-2zM552 275h1v1h-1zM555 275h1v1h-1zM558 275h1v1h-1zM561 275h1v1h-1zM564 275h1v1h-1zM567 275h1v1h-1zM570 275h1v1h-1zM573 275h1v1h-1zM576 275h1v1h-1zM579 275h1v1h-1zM582 275h1v1h-1zM585 275h1v1h-1zM588 275h1v1h-1zM591 275h1v1h-1zM594 275h1v1h-1zM597 275h2v1h-2zM600 275h1v1h-1zM603 275h1v1h-1zM606 275h1v1h-1zM609 275h1v1h-1zM612 275h1v1h-1zM615 275h1v1h-1zM618 275h1v1h-1zM621 275h1v1h-1zM624 275h1v1h-1zM627 275h1v1h-1zM630 275h1v1h-1zM633 275h1v1h-1zM636 275h1v1h-1zM639 275h1v1h-1zM642 275h1v1h-1zM645 275h1v1h-1zM647 275h2v1h-2zM651 275h1v1h-1zM654 275h1v1h-1zM657 275h1v1h-1zM660 275h1v1h-1zM663 275h1v1h-1zM666 275h1v1h-1zM669 275h1v1h-1zM672 275h1v1h-1zM675 275h1v1h-1zM678 275h1v1h-1zM681 275h1v1h-1zM684 275h1v1h-1zM687 275h1v1h-1zM690 275h1v1h-1zM693 275h1v1h-1zM111 278h1v1h-1zM160 278h1v1h-1zM209 278h1v1h-1zM257 278h1v1h-1zM306 278h1v1h-1zM355 278h1v1h-1zM403 278h1v1h-1zM452 278h1v1h-1zM501 278h1v1h-1zM550 278h1v1h-1zM598 278h1v1h-1zM647 278h1v1h-1zM111 281h1v1h-1zM160 281h1v1h-1zM209 281h1v1h-1zM257 281h1v1h-1zM306 281h1v1h-1zM355 281h1v1h-1zM403 281h1v1h-1zM452 281h1v1h-1zM501 281h1v1h-1zM550 281h1v1h-1zM598 281h1v1h-1zM647 281h1v1h-1zM111 284h1v1h-1zM160 284h1v1h-1zM209 284h1v1h-1zM257 284h1v1h-1zM306 284h1v1h-1zM355 284h1v1h-1zM403 284h1v1h-1zM452 284h1v1h-1zM501 284h1v1h-1zM550 284h1v1h-1zM598 284h1v1h-1zM647 284h1v1h-1zM111 287h1v1h-1zM160 287h1v1h-1zM209 287h1v1h-1zM257 287h1v1h-1zM306 287h1v1h-1zM355 287h1v1h-1zM403 287h1v1h-1zM452 287h1v1h-1zM501 287h1v1h-1zM550 287h1v1h-1zM598 287h1v1h-1zM647 287h1v1h-1zM111 290h1v1h-1zM160 290h1v1h-1zM209 290h1v1h-1zM257 290h1v1h-1zM306 290h1v1h-1zM355 290h1v1h-1zM403 290h1v1h-1zM452 290h1v1h-1zM501 290h1v1h-1zM550 290h1v1h-1zM598 290h1v1h-1zM647 290h1v1h-1zM111 293h1v1h-1zM160 293h1v1h-1zM209 293h1v1h-1zM257 293h1v1h-1zM306 293h1v1h-1zM355 293h1v1h-1zM403 293h1v1h-1zM452 293h1v1h-1zM501 293h1v1h-1zM550 293h1v1h-1zM598 293h1v1h-1zM647 293h1v1h-1zM111 296h1v1h-1zM160 296h1v1h-1zM209 296h1v1h-1zM257 296h1v1h-1zM306 296h1v1h-1zM355 296h1v1h-1zM403 296h1v1h-1zM452 296h1v1h-1zM501 296h1v1h-1zM550 296h1v1h-1zM598 296h1v1h-1zM647 296h1v1h-1zM111 299h1v1h-1zM160 299h1v1h-1zM209 299h1v1h-1zM257 299h1v1h-1zM306 299h1v1h-1zM355 299h1v1h-1zM403 299h1v1h-1zM452 299h1v1h-1zM501 299h1v1h-1zM550 299h1v1h-1zM598 299h1v1h-1zM647 299h1v1h-1zM111 302h1v1h-1zM160 302h1v1h-1zM209 302h1v1h-1zM257 302h1v1h-1zM306 302h1v1h-1zM355 302h1v1h-1zM403 302h1v1h-1zM452 302h1v1h-1zM501 302h1v1h-1zM550 302h1v1h-1zM598 302h1v1h-1zM647 302h1v1h-1zM111 305h1v1h-1zM160 305h1v1h-1zM209 305h1v1h-1zM257 305h1v1h-1zM306 305h1v1h-1zM355 305h1v1h-1zM403 305h1v1h-1zM452 305h1v1h-1zM501 305h1v1h-1zM550 305h1v1h-1zM598 305h1v1h-1zM647 305h1v1h-1zM111 308h1v1h-1zM160 308h1v1h-1zM209 308h1v1h-1zM257 308h1v1h-1zM306 308h1v1h-1zM355 308h1v1h-1zM403 308h1v1h-1zM452 308h1v1h-1zM501 308h1v1h-1zM550 308h1v1h-1zM598 308h1v1h-1zM647 308h1v1h-1zM111 311h1v1h-1zM160 311h1v1h-1zM209 311h1v1h-1zM257 311h1v1h-1zM306 311h1v1h-1zM355 311h1v1h-1zM403 311h1v1h-1zM452 311h1v1h-1zM501 311h1v1h-1zM550 311h1v1h-1zM598 311h1v1h-1zM647 311h1v1h-1zM111 314h1v1h-1zM160 314h1v1h-1zM209 314h1v1h-1zM257 314h1v1h-1zM306 314h1v1h-1zM355 314h1v1h-1zM403 314h1v1h-1zM452 314h1v1h-1zM501 314h1v1h-1zM550 314h1v1h-1zM598 314h1v1h-1zM647 314h1v1h-1zM111 317h1v1h-1zM160 317h1v1h-1zM209 317h1v1h-1zM257 317h1v1h-1zM306 317h1v1h-1zM355 317h1v1h-1zM403 317h1v1h-1zM452 317h1v1h-1zM501 317h1v1h-1zM550 317h1v1h-1zM598 317h1v1h-1zM647 317h1v1h-1zM111 320h1v1h-1zM160 320h1v1h-1zM209 320h1v1h-1zM257 320h1v1h-1zM306 320h1v1h-1zM355 320h1v1h-1zM403 320h1v1h-1zM452 320h1v1h-1zM501 320h1v1h-1zM550 320h1v1h-1zM598 320h1v1h-1zM647 320h1v1h-1zM63 322h1v1h-1zM66 322h1v1h-1zM69 322h1v1h-1zM72 322h1v1h-1zM75 322h1v1h-1zM78 322h1v1h-1zM81 322h1v1h-1zM84 322h1v1h-1zM87 322h1v1h-1zM90 322h1v1h-1zM93 322h1v1h-1zM96 322h1v1h-1zM99 322h1v1h-1zM102 322h1v1h-1zM105 322h1v1h-1zM108 322h1v1h-1zM111 322h1v1h-1zM114 322h1v1h-1zM117 322h1v1h-1zM120 322h1v1h-1zM123 322h1v1h-1zM126 322h1v1h-1zM129 322h1v1h-1zM132 322h1v1h-1zM135 322h1v1h-1zM138 322h1v1h-1zM141 322h1v1h-1zM144 322h1v1h-1zM147 322h1v1h-1zM150 322h1v1h-1zM153 322h1v1h-1zM156 322h1v1h-1zM159 322h1v1h-1zM162 322h1v1h-1zM165 322h1v1h-1zM168 322h1v1h-1zM171 322h1v1h-1zM174 322h1v1h-1zM177 322h1v1h-1zM180 322h1v1h-1zM183 322h1v1h-1zM186 322h1v1h-1zM189 322h1v1h-1zM192 322h1v1h-1zM195 322h1v1h-1zM198 322h1v1h-1zM201 322h1v1h-1zM204 322h1v1h-1zM207 322h1v1h-1zM210 322h1v1h-1zM213 322h1v1h-1zM216 322h1v1h-1zM219 322h1v1h-1zM222 322h1v1h-1zM225 322h1v1h-1zM228 322h1v1h-1zM231 322h1v1h-1zM234 322h1v1h-1zM237 322h1v1h-1zM240 322h1v1h-1zM243 322h1v1h-1zM246 322h1v1h-1zM249 322h1v1h-1zM252 322h1v1h-1zM255 322h1v1h-1zM258 322h1v1h-1zM261 322h1v1h-1zM264 322h1v1h-1zM267 322h1v1h-1zM270 322h1v1h-1zM273 322h1v1h-1zM276 322h1v1h-1zM279 322h1v1h-1zM282 322h1v1h-1zM285 322h1v1h-1zM288 322h1v1h-1zM291 322h1v1h-1zM294 322h1v1h-1zM297 322h1v1h-1zM300 322h1v1h-1zM303 322h1v1h-1zM306 322h1v1h-1zM309 322h1v1h-1zM312 322h1v1h-1zM315 322h1v1h-1zM318 322h1v1h-1zM321 322h1v1h-1zM324 322h1v1h-1zM327 322h1v1h-1zM330 322h1v1h-1zM333 322h1v1h-1zM336 322h1v1h-1zM339 322h1v1h-1zM342 322h1v1h-1zM345 322h1v1h-1zM348 322h1v1h-1zM351 322h1v1h-1zM354 322h1v1h-1zM357 322h1v1h-1zM360 322h1v1h-1zM363 322h1v1h-1zM366 322h1v1h-1zM369 322h1v1h-1zM372 322h1v1h-1zM375 322h1v1h-1zM378 322h1v1h-1zM381 322h1v1h-1zM384 322h1v1h-1zM387 322h1v1h-1zM390 322h1v1h-1zM393 322h1v1h-1zM396 322h1v1h-1zM399 322h1v1h-1zM402 322h1v1h-1zM405 322h1v1h-1zM408 322h1v1h-1zM411 322h1v1h-1zM414 322h1v1h-1zM417 322h1v1h-1zM420 322h1v1h-1zM423 322h1v1h-1zM426 322h1v1h-1zM429 322h1v1h-1zM432 322h1v1h-1zM435 322h1v1h-1zM438 322h1v1h-1zM441 322h1v1h-1zM444 322h1v1h-1zM447 322h1v1h-1zM450 322h1v1h-1zM453 322h1v1h-1zM456 322h1v1h-1zM459 322h1v1h-1zM462 322h1v1h-1zM465 322h1v1h-1zM468 322h1v1h-1zM471 322h1v1h-1zM474 322h1v1h-1zM477 322h1v1h-1zM480 322h1v1h-1zM483 322h1v1h-1zM486 322h1v1h-1zM489 322h1v1h-1zM492 322h1v1h-1zM495 322h1v1h-1zM498 322h1v1h-1zM501 322h1v1h-1zM504 322h1v1h-1zM507 322h1v1h-1zM510 322h1v1h-1zM513 322h1v1h-1zM516 322h1v1h-1zM519 322h1v1h-1zM522 322h1v1h-1zM525 322h1v1h-1zM528 322h1v1h-1zM531 322h1v1h-1zM534 322h1v1h-1zM537 322h1v1h-1zM540 322h1v1h-1zM543 322h1v1h-1zM546 322h1v1h-1zM549 322h1v1h-1zM552 322h1v1h-1zM555 322h1v1h-1zM558 322h1v1h-1zM561 322h1v1h-1zM564 322h1v1h-1zM567 322h1v1h-1zM570 322h1v1h-1zM573 322h1v1h-1zM576 322h1v1h-1zM579 322h1v1h-1zM582 322h1v1h-1zM585 322h1v1h-1zM588 322h1v1h-1zM591 322h1v1h-1zM594 322h1v1h-1zM597 322h1v1h-1zM600 322h1v1h-1zM603 322h1v1h-1zM606 322h1v1h-1zM609 322h1v1h-1zM612 322h1v1h-1zM615 322h1v1h-1zM618 322h1v1h-1zM621 322h1v1h-1zM624 322h1v1h-1zM627 322h1v1h-1zM630 322h1v1h-1zM633 322h1v1h-1zM636 322h1v1h-1zM639 322h1v1h-1zM642 322h1v1h-1zM645 322h1v1h-1zM648 322h1v1h-1zM651 322h1v1h-1zM654 322h1v1h-1zM657 322h1v1h-1zM660 322h1v1h-1zM663 322h1v1h-1zM666 322h1v1h-1zM669 322h1v1h-1zM672 322h1v1h-1zM675 322h1v1h-1zM678 322h1v1h-1zM681 322h1v1h-1zM684 322h1v1h-1zM687 322h1v1h-1zM690 322h1v1h-1zM693 322h1v1h-1zM111 323h1v1h-1zM160 323h1v1h-1zM209 323h1v1h-1zM257 323h1v1h-1zM306 323h1v1h-1zM355 323h1v1h-1zM403 323h1v1h-1zM452 323h1v1h-1zM501 323h1v1h-1zM550 323h1v1h-1zM598 323h1v1h-1zM647 323h1v1h-1zM111 326h1v1h-1zM160 326h1v1h-1zM209 326h1v1h-1zM257 326h1v1h-1zM306 326h1v1h-1zM355 326h1v1h-1zM403 326h1v1h-1zM452 326h1v1h-1zM501 326h1v1h-1zM550 326h1v1h-1zM598 326h1v1h-1zM647 326h1v1h-1zM111 329h1v1h-1zM160 329h1v1h-1zM209 329h1v1h-1zM257 329h1v1h-1zM306 329h1v1h-1zM355 329h1v1h-1zM403 329h1v1h-1zM452 329h1v1h-1zM501 329h1v1h-1zM550 329h1v1h-1zM598 329h1v1h-1zM647 329h1v1h-1zM111 332h1v1h-1zM160 332h1v1h-1zM209 332h1v1h-1zM257 332h1v1h-1zM306 332h1v1h-1zM355 332h1v1h-1zM403 332h1v1h-1zM452 332h1v1h-1zM501 332h1v1h-1zM550 332h1v1h-1zM598 332h1v1h-1zM647 332h1v1h-1zM111 335h1v1h-1zM160 335h1v1h-1zM209 335h1v1h-1zM257 335h1v1h-1zM306 335h1v1h-1zM355 335h1v1h-1zM403 335h1v1h-1zM452 335h1v1h-1zM501 335h1v1h-1zM550 335h1v1h-1zM598 335h1v1h-1zM647 335h1v1h-1zM111 338h1v1h-1zM160 338h1v1h-1zM209 338h1v1h-1zM257 338h1v1h-1zM306 338h1v1h-1zM355 338h1v1h-1zM403 338h1v1h-1zM452 338h1v1h-1zM501 338h1v1h-1zM550 338h1v1h-1zM598 338h1v1h-1zM647 338h1v1h-1zM111 341h1v1h-1zM160 341h1v1h-1zM209 341h1v1h-1zM257 341h1v1h-1zM306 341h1v1h-1zM355 341h1v1h-1zM403 341h1v1h-1zM452 341h1v1h-1zM501 341h1v1h-1zM550 341h1v1h-1zM598 341h1v1h-1zM647 341h1v1h-1zM111 344h1v1h-1zM160 344h1v1h-1zM209 344h1v1h-1zM257 344h1v1h-1zM306 344h1v1h-1zM355 344h1v1h-1zM403 344h1v1h-1zM452 344h1v1h-1zM501 344h1v1h-1zM550 344h1v1h-1zM598 344h1v1h-1zM647 344h1v1h-1zM111 347h1v1h-1zM160 347h1v1h-1zM209 347h1v1h-1zM257 347h1v1h-1zM306 347h1v1h-1zM355 347h1v1h-1zM403 347h1v1h-1zM452 347h1v1h-1zM501 347h1v1h-1zM550 347h1v1h-1zM598 347h1v1h-1zM647 347h1v1h-1zM111 350h1v1h-1zM160 350h1v1h-1zM209 350h1v1h-1zM257 350h1v1h-1zM306 350h1v1h-1zM355 350h1v1h-1zM403 350h1v1h-1zM452 350h1v1h-1zM501 350h1v1h-1zM550 350h1v1h-1zM598 350h1v1h-1zM647 350h1v1h-1zM111 353h1v1h-1zM160 353h1v1h-1zM209 353h1v1h-1zM257 353h1v1h-1zM306 353h1v1h-1zM355 353h1v1h-1zM403 353h1v1h-1zM452 353h1v1h-1zM501 353h1v1h-1zM550 353h1v1h-1zM598 353h1v1h-1zM647 353h1v1h-1zM111 356h1v1h-1zM160 356h1v1h-1zM209 356h1v1h-1zM257 356h1v1h-1zM306 356h1v1h-1zM355 356h1v1h-1zM403 356h1v1h-1zM452 356h1v1h-1zM501 356h1v1h-1zM550 356h1v1h-1zM598 356h1v1h-1zM647 356h1v1h-1zM111 359h1v1h-1zM160 359h1v1h-1zM209 359h1v1h-1zM257 359h1v1h-1zM306 359h1v1h-1zM355 359h1v1h-1zM403 359h1v1h-1zM452 359h1v1h-1zM501 359h1v1h-1zM550 359h1v1h-1zM598 359h1v1h-1zM647 359h1v1h-1zM111 362h1v1h-1zM160 362h1v1h-1zM209 362h1v1h-1zM257 362h1v1h-1zM306 362h1v1h-1zM355 362h1v1h-1zM403 362h1v1h-1zM452 362h1v1h-1zM501 362h1v1h-1zM550 362h1v1h-1zM598 362h1v1h-1zM647 362h1v1h-1zM111 365h1v1h-1zM160 365h1v1h-1zM209 365h1v1h-1zM257 365h1v1h-1zM306 365h1v1h-1zM355 365h1v1h-1zM403 365h1v1h-1zM452 365h1v1h-1zM501 365h1v1h-1zM550 365h1v1h-1zM598 365h1v1h-1zM647 365h1v1h-1zM63 368h1v1h-1zM66 368h1v1h-1zM69 368h1v1h-1zM72 368h1v1h-1zM75 368h1v1h-1zM78 368h1v1h-1zM81 368h1v1h-1zM84 368h1v1h-1zM87 368h1v1h-1zM90 368h1v1h-1zM93 368h1v1h-1zM96 368h1v1h-1zM99 368h1v1h-1zM102 368h1v1h-1zM105 368h1v1h-1zM108 368h1v1h-1zM111 368h1v1h-1zM114 368h1v1h-1zM117 368h1v1h-1zM120 368h1v1h-1zM123 368h1v1h-1zM126 368h1v1h-1zM129 368h1v1h-1zM132 368h1v1h-1zM135 368h1v1h-1zM138 368h1v1h-1zM141 368h1v1h-1zM144 368h1v1h-1zM147 368h1v1h-1zM150 368h1v1h-1zM153 368h1v1h-1zM156 368h1v1h-1zM159 368h2v1h-2zM162 368h1v1h-1zM165 368h1v1h-1zM168 368h1v1h-1zM171 368h1v1h-1zM174 368h1v1h-1zM177 368h1v1h-1zM180 368h1v1h-1zM183 368h1v1h-1zM186 368h1v1h-1zM189 368h1v1h-1zM192 368h1v1h-1zM195 368h1v1h-1zM198 368h1v1h-1zM201 368h1v1h-1zM204 368h1v1h-1zM207 368h1v1h-1zM209 368h2v1h-2zM213 368h1v1h-1zM216 368h1v1h-1zM219 368h1v1h-1zM222 368h1v1h-1zM225 368h1v1h-1zM228 368h1v1h-1zM231 368h1v1h-1zM234 368h1v1h-1zM237 368h1v1h-1zM240 368h1v1h-1zM243 368h1v1h-1zM246 368h1v1h-1zM249 368h1v1h-1zM252 368h1v1h-1zM255 368h1v1h-1zM257 368h2v1h-2zM261 368h1v1h-1zM264 368h1v1h-1zM267 368h1v1h-1zM270 368h1v1h-1zM273 368h1v1h-1zM276 368h1v1h-1zM279 368h1v1h-1zM282 368h1v1h-1zM285 368h1v1h-1zM288 368h1v1h-1zM291 368h1v1h-1zM294 368h1v1h-1zM297 368h1v1h-1zM300 368h1v1h-1zM303 368h1v1h-1zM306 368h1v1h-1zM309 368h1v1h-1zM312 368h1v1h-1zM315 368h1v1h-1zM318 368h1v1h-1zM321 368h1v1h-1zM324 368h1v1h-1zM327 368h1v1h-1zM330 368h1v1h-1zM333 368h1v1h-1zM336 368h1v1h-1zM339 368h1v1h-1zM342 368h1v1h-1zM345 368h1v1h-1zM348 368h1v1h-1zM351 368h1v1h-1zM354 368h2v1h-2zM357 368h1v1h-1zM360 368h1v1h-1zM363 368h1v1h-1zM366 368h1v1h-1zM369 368h1v1h-1zM372 368h1v1h-1zM375 368h1v1h-1zM378 368h1v1h-1zM381 368h1v1h-1zM384 368h1v1h-1zM387 368h1v1h-1zM390 368h1v1h-1zM393 368h1v1h-1zM396 368h1v1h-1zM399 368h1v1h-1zM402 368h2v1h-2zM405 368h1v1h-1zM408 368h1v1h-1zM411 368h1v1h-1zM414 368h1v1h-1zM417 368h1v1h-1zM420 368h1v1h-1zM423 368h1v1h-1zM426 368h1v1h-1zM429 368h1v1h-1zM432 368h1v1h-1zM435 368h1v1h-1zM438 368h1v1h-1zM441 368h1v1h-1zM444 368h1v1h-1zM447 368h1v1h-1zM450 368h1v1h-1zM452 368h2v1h-2zM456 368h1v1h-1zM459 368h1v1h-1zM462 368h1v1h-1zM465 368h1v1h-1zM468 368h1v1h-1zM471 368h1v1h-1zM474 368h1v1h-1zM477 368h1v1h-1zM480 368h1v1h-1zM483 368h1v1h-1zM486 368h1v1h-1zM489 368h1v1h-1zM492 368h1v1h-1zM495 368h1v1h-1zM498 368h1v1h-1zM501 368h1v1h-1zM504 368h1v1h-1zM507 368h1v1h-1zM510 368h1v1h-1zM513 368h1v1h-1zM516 368h1v1h-1zM519 368h1v1h-1zM522 368h1v1h-1zM525 368h1v1h-1zM528 368h1v1h-1zM531 368h1v1h-1zM534 368h1v1h-1zM537 368h1v1h-1zM540 368h1v1h-1zM543 368h1v1h-1zM546 368h1v1h-1zM549 368h2v1h-2zM552 368h1v1h-1zM555 368h1v1h-1zM558 368h1v1h-1zM561 368h1v1h-1zM564 368h1v1h-1zM567 368h1v1h-1zM570 368h1v1h-1zM573 368h1v1h-1zM576 368h1v1h-1zM579 368h1v1h-1zM582 368h1v1h-1zM585 368h1v1h-1zM588 368h1v1h-1zM591 368h1v1h-1zM594 368h1v1h-1zM597 368h2v1h-2zM600 368h1v1h-1zM603 368h1v1h-1zM606 368h1v1h-1zM609 368h1v1h-1zM612 368h1v1h-1zM615 368h1v1h-1zM618 368h1v1h-1zM621 368h1v1h-1zM624 368h1v1h-1zM627 368h1v1h-1zM630 368h1v1h-1zM633 368h1v1h-1zM636 368h1v1h-1zM639 368h1v1h-1zM642 368h1v1h-1zM645 368h1v1h-1zM647 368h2v1h-2zM651 368h1v1h-1zM654 368h1v1h-1zM657 368h1v1h-1zM660 368h1v1h-1zM663 368h1v1h-1zM666 368h1v1h-1zM669 368h1v1h-1zM672 368h1v1h-1zM675 368h1v1h-1zM678 368h1v1h-1zM681 368h1v1h-1zM684 368h1v1h-1zM687 368h1v1h-1zM690 368h1v1h-1zM693 368h1v1h-1zM111 371h1v1h-1zM160 371h1v1h-1zM209 371h1v1h-1zM257 371h1v1h-1zM306 371h1v1h-1zM355 371h1v1h-1zM403 371h1v1h-1zM452 371h1v1h-1zM501 371h1v1h-1zM550 371h1v1h-1zM598 371h1v1h-1zM647 371h1v1h-1zM111 374h1v1h-1zM160 374h1v1h-1zM209 374h1v1h-1zM257 374h1v1h-1zM306 374h1v1h-1zM355 374h1v1h-1zM403 374h1v1h-1zM452 374h1v1h-1zM501 374h1v1h-1zM550 374h1v1h-1zM598 374h1v1h-1zM647 374h1v1h-1zM111 377h1v1h-1zM160 377h1v1h-1zM209 377h1v1h-1zM257 377h1v1h-1zM306 377h1v1h-1zM355 377h1v1h-1zM403 377h1v1h-1zM452 377h1v1h-1zM501 377h1v1h-1zM550 377h1v1h-1zM598 377h1v1h-1zM647 377h1v1h-1zM111 380h1v1h-1zM160 380h1v1h-1zM209 380h1v1h-1zM257 380h1v1h-1zM306 380h1v1h-1zM355 380h1v1h-1zM403 380h1v1h-1zM452 380h1v1h-1zM501 380h1v1h-1zM550 380h1v1h-1zM598 380h1v1h-1zM647 380h1v1h-1zM111 383h1v1h-1zM160 383h1v1h-1zM209 383h1v1h-1zM257 383h1v1h-1zM306 383h1v1h-1zM355 383h1v1h-1zM403 383h1v1h-1zM452 383h1v1h-1zM501 383h1v1h-1zM550 383h1v1h-1zM598 383h1v1h-1zM647 383h1v1h-1zM111 386h1v1h-1zM160 386h1v1h-1zM209 386h1v1h-1zM257 386h1v1h-1zM306 386h1v1h-1zM355 386h1v1h-1zM403 386h1v1h-1zM452 386h1v1h-1zM501 386h1v1h-1zM550 386h1v1h-1zM598 386h1v1h-1zM647 386h1v1h-1zM111 389h1v1h-1zM160 389h1v1h-1zM209 389h1v1h-1zM257 389h1v1h-1zM306 389h1v1h-1zM355 389h1v1h-1zM403 389h1v1h-1zM452 389h1v1h-1zM501 389h1v1h-1zM550 389h1v1h-1zM598 389h1v1h-1zM647 389h1v1h-1zM111 392h1v1h-1zM160 392h1v1h-1zM209 392h1v1h-1zM257 392h1v1h-1zM306 392h1v1h-1zM355 392h1v1h-1zM403 392h1v1h-1zM452 392h1v1h-1zM501 392h1v1h-1zM550 392h1v1h-1zM598 392h1v1h-1zM647 392h1v1h-1zM111 395h1v1h-1zM160 395h1v1h-1zM209 395h1v1h-1zM257 395h1v1h-1zM306 395h1v1h-1zM355 395h1v1h-1zM403 395h1v1h-1zM452 395h1v1h-1zM501 395h1v1h-1zM550 395h1v1h-1zM598 395h1v1h-1zM647 395h1v1h-1zM111 398h1v1h-1zM160 398h1v1h-1zM209 398h1v1h-1zM257 398h1v1h-1zM306 398h1v1h-1zM355 398h1v1h-1zM403 398h1v1h-1zM452 398h1v1h-1zM501 398h1v1h-1zM550 398h1v1h-1zM598 398h1v1h-1zM647 398h1v1h-1zM111 401h1v1h-1zM160 401h1v1h-1zM209 401h1v1h-1zM257 401h1v1h-1zM306 401h1v1h-1zM355 401h1v1h-1zM403 401h1v1h-1zM452 401h1v1h-1zM501 401h1v1h-1zM550 401h1v1h-1zM598 401h1v1h-1zM647 401h1v1h-1zM111 404h1v1h-1zM160 404h1v1h-1zM209 404h1v1h-1zM257 404h1v1h-1zM306 404h1v1h-1zM355 404h1v1h-1zM403 404h1v1h-1zM452 404h1v1h-1zM501 404h1v1h-1zM550 404h1v1h-1zM598 404h1v1h-1zM647 404h1v1h-1zM111 407h1v1h-1zM160 407h1v1h-1zM209 407h1v1h-1zM257 407h1v1h-1zM306 407h1v1h-1zM355 407h1v1h-1zM403 407h1v1h-1zM452 407h1v1h-1zM501 407h1v1h-1zM550 407h1v1h-1zM598 407h1v1h-1zM647 407h1v1h-1zM111 410h1v1h-1zM160 410h1v1h-1zM209 410h1v1h-1zM257 410h1v1h-1zM306 410h1v1h-1zM355 410h1v1h-1zM403 410h1v1h-1zM452 410h1v1h-1zM501 410h1v1h-1zM550 410h1v1h-1zM598 410h1v1h-1zM647 410h1v1h-1zM111 413h1v1h-1zM160 413h1v1h-1zM209 413h1v1h-1zM257 413h1v1h-1zM306 413h1v1h-1zM355 413h1v1h-1zM403 413h1v1h-1zM452 413h1v1h-1zM501 413h1v1h-1zM550 413h1v1h-1zM598 413h1v1h-1zM647 413h1v1h-1zM63 415h1v1h-1zM66 415h1v1h-1zM69 415h1v1h-1zM72 415h1v1h-1zM75 415h1v1h-1zM78 415h1v1h-1zM81 415h1v1h-1zM84 415h1v1h-1zM87 415h1v1h-1zM90 415h1v1h-1zM93 415h1v1h-1zM96 415h1v1h-1zM99 415h1v1h-1zM102 415h1v1h-1zM105 415h1v1h-1zM108 415h1v1h-1zM111 415h1v1h-1zM114 415h1v1h-1zM117 415h1v1h-1zM120 415h1v1h-1zM123 415h1v1h-1zM126 415h1v1h-1zM129 415h1v1h-1zM132 415h1v1h-1zM135 415h1v1h-1zM138 415h1v1h-1zM141 415h1v1h-1zM144 415h1v1h-1zM147 415h1v1h-1zM150 415h1v1h-1zM153 415h1v1h-1zM156 415h1v1h-1zM159 415h1v1h-1zM162 415h1v1h-1zM165 415h1v1h-1zM168 415h1v1h-1zM171 415h1v1h-1zM174 415h1v1h-1zM177 415h1v1h-1zM180 415h1v1h-1zM183 415h1v1h-1zM186 415h1v1h-1zM189 415h1v1h-1zM192 415h1v1h-1zM195 415h1v1h-1zM198 415h1v1h-1zM201 415h1v1h-1zM204 415h1v1h-1zM207 415h1v1h-1zM210 415h1v1h-1zM213 415h1v1h-1zM216 415h1v1h-1zM219 415h1v1h-1zM222 415h1v1h-1zM225 415h1v1h-1zM228 415h1v1h-1zM231 415h1v1h-1zM234 415h1v1h-1zM237 415h1v1h-1zM240 415h1v1h-1zM243 415h1v1h-1zM246 415h1v1h-1zM249 415h1v1h-1zM252 415h1v1h-1zM255 415h1v1h-1zM258 415h1v1h-1zM261 415h1v1h-1zM264 415h1v1h-1zM267 415h1v1h-1zM270 415h1v1h-1zM273 415h1v1h-1zM276 415h1v1h-1zM279 415h1v1h-1zM282 415h1v1h-1zM285 415h1v1h-1zM288 415h1v1h-1zM291 415h1v1h-1zM294 415h1v1h-1zM297 415h1v1h-1zM300 415h1v1h-1zM303 415h1v1h-1zM306 415h1v1h-1zM309 415h1v1h-1zM312 415h1v1h-1zM315 415h1v1h-1zM318 415h1v1h-1zM321 415h1v1h-1zM324 415h1v1h-1zM327 415h1v1h-1zM330 415h1v1h-1zM333 415h1v1h-1zM336 415h1v1h-1zM339 415h1v1h-1zM342 415h1v1h-1zM345 415h1v1h-1zM348 415h1v1h-1zM351 415h1v1h-1zM354 415h1v1h-1zM357 415h1v1h-1zM360 415h1v1h-1zM363 415h1v1h-1zM366 415h1v1h-1zM369 415h1v1h-1zM372 415h1v1h-1zM375 415h1v1h-1zM378 415h1v1h-1zM381 415h1v1h-1zM384 415h1v1h-1zM387 415h1v1h-1zM390 415h1v1h-1zM393 415h1v1h-1zM396 415h1v1h-1zM399 415h1v1h-1zM402 415h1v1h-1zM405 415h1v1h-1zM408 415h1v1h-1zM411 415h1v1h-1zM414 415h1v1h-1zM417 415h1v1h-1zM420 415h1v1h-1zM423 415h1v1h-1zM426 415h1v1h-1zM429 415h1v1h-1zM432 415h1v1h-1zM435 415h1v1h-1zM438 415h1v1h-1zM441 415h1v1h-1zM444 415h1v1h-1zM447 415h1v1h-1zM450 415h1v1h-1zM453 415h1v1h-1zM456 415h1v1h-1zM459 415h1v1h-1zM462 415h1v1h-1zM465 415h1v1h-1zM468 415h1v1h-1zM471 415h1v1h-1zM474 415h1v1h-1zM477 415h1v1h-1zM480 415h1v1h-1zM483 415h1v1h-1zM486 415h1v1h-1zM489 415h1v1h-1zM492 415h1v1h-1zM495 415h1v1h-1zM498 415h1v1h-1zM501 415h1v1h-1zM504 415h1v1h-1zM507 415h1v1h-1zM510 415h1v1h-1zM513 415h1v1h-1zM516 415h1v1h-1zM519 415h1v1h-1zM522 415h1v1h-1zM525 415h1v1h-1zM528 415h1v1h-1zM531 415h1v1h-1zM534 415h1v1h-1zM537 415h1v1h-1zM540 415h1v1h-1zM543 415h1v1h-1zM546 415h1v1h-1zM549 415h1v1h-1zM552 415h1v1h-1zM555 415h1v1h-1zM558 415h1v1h-1zM561 415h1v1h-1zM564 415h1v1h-1zM567 415h1v1h-1zM570 415h1v1h-1zM573 415h1v1h-1zM576 415h1v1h-1zM579 415h1v1h-1zM582 415h1v1h-1zM585 415h1v1h-1zM588 415h1v1h-1zM591 415h1v1h-1zM594 415h1v1h-1zM597 415h1v1h-1zM600 415h1v1h-1zM603 415h1v1h-1zM606 415h1v1h-1zM609 415h1v1h-1zM612 415h1v1h-1zM615 415h1v1h-1zM618 415h1v1h-1zM621 415h1v1h-1zM624 415h1v1h-1zM627 415h1v1h-1zM630 415h1v1h-1zM633 415h1v1h-1zM636 415h1v1h-1zM639 415h1v1h-1zM642 415h1v1h-1zM645 415h1v1h-1zM648 415h1v1h-1zM651 415h1v1h-1zM654 415h1v1h-1zM657 415h1v1h-1zM660 415h1v1h-1zM663 415h1v1h-1zM666 415h1v1h-1zM669 415h1v1h-1zM672 415h1v1h-1zM675 415h1v1h-1zM678 415h1v1h-1zM681 415h1v1h-1zM684 415h1v1h-1zM687 415h1v1h-1zM690 415h1v1h-1zM693 415h1v1h-1zM111 416h1v1h-1zM160 416h1v1h-1zM209 416h1v1h-1zM257 416h1v1h-1zM306 416h1v1h-1zM355 416h1v1h-1zM403 416h1v1h-1zM452 416h1v1h-1zM501 416h1v1h-1zM550 416h1v1h-1zM598 416h1v1h-1zM647 416h1v1h-1zM111 419h1v1h-1zM160 419h1v1h-1zM209 419h1v1h-1zM257 419h1v1h-1zM306 419h1v1h-1zM355 419h1v1h-1zM403 419h1v1h-1zM452 419h1v1h-1zM501 419h1v1h-1zM550 419h1v1h-1zM598 419h1v1h-1zM647 419h1v1h-1zM111 422h1v1h-1zM160 422h1v1h-1zM209 422h1v1h-1zM257 422h1v1h-1zM306 422h1v1h-1zM355 422h1v1h-1zM403 422h1v1h-1zM452 422h1v1h-1zM501 422h1v1h-1zM550 422h1v1h-1zM598 422h1v1h-1zM647 422h1v1h-1zM111 425h1v1h-1zM160 425h1v1h-1zM209 425h1v1h-1zM257 425h1v1h-1zM306 425h1v1h-1zM355 425h1v1h-1zM403 425h1v1h-1zM452 425h1v1h-1zM501 425h1v1h-1zM550 425h1v1h-1zM598 425h1v1h-1zM647 425h1v1h-1zM111 428h1v1h-1zM160 428h1v1h-1zM209 428h1v1h-1zM257 428h1v1h-1zM306 428h1v1h-1zM355 428h1v1h-1zM403 428h1v1h-1zM452 428h1v1h-1zM501 428h1v1h-1zM550 428h1v1h-1zM598 428h1v1h-1zM647 428h1v1h-1zM111 431h1v1h-1zM160 431h1v1h-1zM209 431h1v1h-1zM257 431h1v1h-1zM306 431h1v1h-1zM355 431h1v1h-1zM403 431h1v1h-1zM452 431h1v1h-1zM501 431h1v1h-1zM550 431h1v1h-1zM598 431h1v1h-1zM647 431h1v1h-1zM111 434h1v1h-1zM160 434h1v1h-1zM209 434h1v1h-1zM257 434h1v1h-1zM306 434h1v1h-1zM355 434h1v1h-1zM403 434h1v1h-1zM452 434h1v1h-1zM501 434h1v1h-1zM550 434h1v1h-1zM598 434h1v1h-1zM647 434h1v1h-1zM111 437h1v1h-1zM160 437h1v1h-1zM209 437h1v1h-1zM257 437h1v1h-1zM306 437h1v1h-1zM355 437h1v1h-1zM403 437h1v1h-1zM452 437h1v1h-1zM501 437h1v1h-1zM550 437h1v1h-1zM598 437h1v1h-1zM647 437h1v1h-1zM111 440h1v1h-1zM160 440h1v1h-1zM209 440h1v1h-1zM257 440h1v1h-1zM306 440h1v1h-1zM355 440h1v1h-1zM403 440h1v1h-1zM452 440h1v1h-1zM501 440h1v1h-1zM550 440h1v1h-1zM598 440h1v1h-1zM647 440h1v1h-1zM111 443h1v1h-1zM160 443h1v1h-1zM209 443h1v1h-1zM257 443h1v1h-1zM306 443h1v1h-1zM355 443h1v1h-1zM403 443h1v1h-1zM452 443h1v1h-1zM501 443h1v1h-1zM550 443h1v1h-1zM598 443h1v1h-1zM647 443h1v1h-1zM111 446h1v1h-1zM160 446h1v1h-1zM209 446h1v1h-1zM257 446h1v1h-1zM306 446h1v1h-1zM355 446h1v1h-1zM403 446h1v1h-1zM452 446h1v1h-1zM501 446h1v1h-1zM550 446h1v1h-1zM598 446h1v1h-1zM647 446h1v1h-1zM111 449h1v1h-1zM160 449h1v1h-1zM209 449h1v1h-1zM257 449h1v1h-1zM306 449h1v1h-1zM355 449h1v1h-1zM403 449h1v1h-1zM452 449h1v1h-1zM501 449h1v1h-1zM550 449h1v1h-1zM598 449h1v1h-1zM647 449h1v1h-1zM111 452h1v1h-1zM160 452h1v1h-1zM209 452h1v1h-1zM257 452h1v1h-1zM306 452h1v1h-1zM355 452h1v1h-1zM403 452h1v1h-1zM452 452h1v1h-1zM501 452h1v1h-1zM550 452h1v1h-1zM598 452h1v1h-1zM647 452h1v1h-1zM111 455h1v1h-1zM160 455h1v1h-1zM209 455h1v1h-1zM257 455h1v1h-1zM306 455h1v1h-1zM355 455h1v1h-1zM403 455h1v1h-1zM452 455h1v1h-1zM501 455h1v1h-1zM550 455h1v1h-1zM598 455h1v1h-1zM647 455h1v1h-1zM111 458h1v1h-1zM160 458h1v1h-1zM209 458h1v1h-1zM257 458h1v1h-1zM306 458h1v1h-1zM355 458h1v1h-1zM403 458h1v1h-1zM452 458h1v1h-1zM501 458h1v1h-1zM550 458h1v1h-1zM598 458h1v1h-1zM647 458h1v1h-1zM111 461h1v1h-1zM160 461h1v1h-1zM209 461h1v1h-1zM257 461h1v1h-1zM306 461h1v1h-1zM355 461h1v1h-1zM403 461h1v1h-1zM452 461h1v1h-1zM501 461h1v1h-1zM550 461h1v1h-1zM598 461h1v1h-1zM647 461h1v1h-1z"/>
<path fill="#000" d="M87 43h1v1h-1zM111 43h1v1h-1zM136 43h1v1h-1zM160 43h1v1h-1zM184 43h1v1h-1zM209 43h1v1h-1zM233 43h1v1h-1zM257 43h1v1h-1zM282 43h1v1h-1zM306 43h1v1h-1zM330 43h1v1h-1zM355 43h1v1h-1zM379 43h1v1h-1zM403 43h1v1h-1zM428 43h1v1h-1zM452 43h1v1h-1zM476 43h1v1h-1zM501 43h1v1h-1zM525 43h1v1h-1zM550 43h1v1h-1zM574 43h1v1h-1zM598 43h1v1h-1zM623 43h1v1h-1zM647 43h1v1h-1zM671 43h1v1h-1zM87 44h1v1h-1zM111 44h1v1h-1zM136 44h1v1h-1zM160 44h1v1h-1zM184 44h1v1h-1zM209 44h1v1h-1zM233 44h1v1h-1zM257 44h1v1h-1zM282 44h1v1h-1zM306 44h1v1h-1zM330 44h1v1h-1zM355 44h1v1h-1zM379 44h1v1h-1zM403 44h1v1h-1zM428 44h1v1h-1zM452 44h1v1h-1zM476 44h1v1h-1zM501 44h1v1h-1zM525 44h1v1h-1zM550 44h1v1h-1zM574 44h1v1h-1zM598 44h1v1h-1zM623 44h1v1h-1zM647 44h1v1h-1zM671 44h1v1h-1zM87 45h1v1h-1zM111 45h1v1h-1zM136 45h1v1h-1zM160 45h1v1h-1zM184 45h1v1h-1zM209 45h1v1h-1zM233 45h1v1h-1zM257 45h1v1h-1zM282 45h1v1h-1zM306 45h1v1h-1zM330 45h1v1h-1zM355 45h1v1h-1zM379 45h1v1h-1zM403 45h1v1h-1zM428 45h1v1h-1zM452 45h1v1h-1zM476 45h1v1h-1zM501 45h1v1h-1zM525 45h1v1h-1zM550 45h1v1h-1zM574 45h1v1h-1zM598 45h1v1h-1zM623 45h1v1h-1zM647 45h1v1h-1zM671 45h1v1h-1zM111 46h1v1h-1zM160 46h1v1h-1zM209 46h1v1h-1zM257 46h1v1h-1zM306 46h1v1h-1zM355 46h1v1h-1zM403 46h1v1h-1zM452 46h1v1h-1zM501 46h1v1h-1zM550 46h1v1h-1zM598 46h1v1h-1zM647 46h1v1h-1zM111 47h1v1h-1zM160 47h1v1h-1zM209 47h1v1h-1zM257 47h1v1h-1zM306 47h1v1h-1zM355 47h1v1h-1zM403 47h1v1h-1zM452 47h1v1h-1zM501 47h1v1h-1zM550 47h1v1h-1zM598 47h1v1h-1zM647 47h1v1h-1zM111 48h1v1h-1zM160 48h1v1h-1zM209 48h1v1h-1zM257 48h1v1h-1zM306 48h1v1h-1zM355 48h1v1h-1zM403 48h1v1h-1zM452 48h1v1h-1zM501 48h1v1h-1zM550 48h1v1h-1zM598 48h1v1h-1zM647 48h1v1h-1zM64 88h6v1h-6zM689 88h6v1h-6zM64 135h6v1h-6zM689 135h6v1h-6zM64 182h6v1h-6zM689 182h6v1h-6zM64 228h6v1h-6zM689 228h6v1h-6zM64 275h6v1h-6zM689 275h6v1h-6zM64 322h6v1h-6zM689 322h6v1h-6zM64 368h6v1h-6zM689 368h6v1h-6zM64 415h6v1h-6zM689 415h6v1h-6zM111 455h1v1h-1zM160 455h1v1h-1zM209 455h1v1h-1zM257 455h1v1h-1zM306 455h1v1h-1zM355 455h1v1h-1zM403 455h1v1h-1zM452 455h1v1h-1zM501 455h1v1h-1zM550 455h1v1h-1zM598 455h1v1h-1zM647 455h1v1h-1zM111 456h1v1h-1zM160 456h1v1h-1zM209 456h1v1h-1zM257 456h1v1h-1zM306 456h1v1h-1zM355 456h1v1h-1zM403 456h1v1h-1zM452 456h1v1h-1zM501 456h1v1h-1zM550 456h1v1h-1zM598 456h1v1h-1zM647 456h1v1h-1zM111 457h1v1h-1zM160 457h1v1h-1zM209 457h1v1h-1zM257 457h1v1h-1zM306 457h1v1h-1zM355 457h1v1h-1zM403 457h1v1h-1zM452 457h1v1h-1zM501 457h1v1h-1zM550 457h1v1h-1zM598 457h1v1h-1zM647 457h1v1h-1zM87 458h1v1h-1zM111 458h1v1h-1zM136 458h1v1h-1zM160 458h1v1h-1zM184 458h1v1h-1zM209 458h1v1h-1zM233 458h1v1h-1zM257 458h1v1h-1zM282 458h1v1h-1zM306 458h1v1h-1zM330 458h1v1h-1zM355 458h1v1h-1zM379 458h1v1h-1zM403 458h1v1h-1zM428 458h1v1h-1zM452 458h1v1h-1zM476 458h1v1h-1zM501 458h1v1h-1zM525 458h1v1h-1zM550 458h1v1h-1zM574 458h1v1h-1zM598 458h1v1h-1zM623 458h1v1h-1zM647 458h1v1h-1zM671 458h1v1h-1zM87 459h1v1h-1zM111 459h1v1h-1zM136 459h1v1h-1zM160 459h1v1h-1zM184 459h1v1h-1zM209 459h1v1h-1zM233 459h1v1h-1zM257 459h1v1h-1zM282 459h1v1h-1zM306 459h1v1h-1zM330 459h1v1h-1zM355 459h1v1h-1zM379 459h1v1h-1zM403 459h1v1h-1zM428 459h1v1h-1zM452 459h1v1h-1zM476 459h1v1h-1zM501 459h1v1h-1zM525 459h1v1h-1zM550 459h1v1h-1zM574 459h1v1h-1zM598 459h1v1h-1zM623 459h1v1h-1zM647 459h1v1h-1zM671 459h1v1h-1zM87 460h1v1h-1zM111 460h1v1h-1zM136 460h1v1h-1zM160 460h1v1h-1zM184 460h1v1h-1zM209 460h1v1h-1zM233 460h1v1h-1zM257 460h1v1h-1zM282 460h1v1h-1zM306 460h1v1h-1zM330 460h1v1h-1zM355 460h1v1h-1zM379 460h1v1h-1zM403 460h1v1h-1zM428 460h1v1h-1zM452 460h1v1h-1zM476 460h1v1h-1zM501 460h1v1h-1zM525 460h1v1h-1zM550 460h1v1h-1zM574 460h1v1h-1zM598 460h1v1h-1zM623 460h1v1h-1zM647 460h1v1h-1zM671 460h1v1h-1z"/>
<text x="631" y="60" text-anchor="end" font-family="Liberation Sans, sans-serif" font-size="14">OGLE-TR-10b</text>
<path fill="#ff0000" d="M639 55h41v1h-41z"/>
<path fill="#ff0000" d="M570 146h1v1h-1zM569 147h1v1h-1zM567 148h2v1h-2zM566 149h1v1h-1zM565 150h1v1h-1zM564 151h1v1h-1zM563 152h1v1h-1zM562 153h1v1h-1zM561 154h1v1h-1zM560 155h1v1h-1zM559 156h1v1h-1zM558 157h1v1h-1zM557 158h1v1h-1zM556 159h1v1h-1zM555 160h1v1h-1zM554 161h1v1h-1zM553 162h1v1h-1zM551 163h2v1h-2zM550 164h1v1h-1zM549 165h1v1h-1zM548 166h1v1h-1zM547 167h1v1h-1zM546 168h1v1h-1zM545 169h1v1h-1zM544 170h1v1h-1zM543 171h1v1h-1zM542 172h1v1h-1zM541 173h1v1h-1zM540 174h1v1h-1zM539 175h1v1h-1zM538 176h1v1h-1zM537 177h1v1h-1zM536 178h1v1h-1zM535 179h1v1h-1zM534 180h1v1h-1zM533 181h1v1h-1zM532 182h1v1h-1zM531 183h1v1h-1zM530 184h1v1h-1zM529 185h1v1h-1zM528 186h1v1h-1zM527 187h1v1h-1zM526 188h1v1h-1zM525 189h1v1h-1zM524 190h1v1h-1zM523 191h1v1h-1zM522 192h1v1h-1zM521 193h1v1h-1zM520 194h1v1h-1zM519 195h1v1h-1zM518 196h1v1h-1zM517 197h1v1h-1zM516 198h1v1h-1zM515 199h1v1h-1zM514 200h1v1h-1zM513 201h1v1h-1zM512 202h1v1h-1zM511 203h1v1h-1zM510 204h1v1h-1zM509 205h1v1h-1zM508 206h1v1h-1zM507 207h1v1h-1zM506 208h1v1h-1zM505 209h1v1h-1zM504 210h1v1h-1zM503 211h1v1h-1zM502 212h1v1h-1zM501 213h1v1h-1zM500 214h1v1h-1zM499 215h1v1h-1zM498 216h1v1h-1zM497 217h1v1h-1zM496 218h1v1h-1zM495 219h1v1h-1zM495 220h1v1h-1zM494 221h1v1h-1zM493 222h1v1h-1zM492 223h1v1h-1zM491 224h1v1h-1zM490 225h1v1h-1zM489 226h1v1h-1zM488 227h1v1h-1zM487 228h1v1h-1zM486 229h1v1h-1zM485 230h1v1h-1zM484 231h1v1h-1zM483 232h1v1h-1zM482 233h1v1h-1zM481 234h1v1h-1zM480 235h1v1h-1zM479 236h1v1h-1zM478 237h1v1h-1zM477 238h1v1h-1zM476 239h1v1h-1zM475 240h1v1h-1zM474 241h1v1h-1zM473 242h1v1h-1zM472 243h1v1h-1zM471 244h1v1h-1zM470 245h1v1h-1zM469 246h1v1h-1zM468 247h1v1h-1zM467 248h1v1h-1zM467 249h1v1h-1zM466 250h1v1h-1zM465 251h1v1h-1zM464 252h1v1h-1zM463 253h1v1h-1zM462 254h1v1h-1zM461 255h1v1h-1zM460 256h1v1h-1zM459 257h1v1h-1zM458 258h1v1h-1zM457 259h1v1h-1zM456 260h1v1h-1zM455 261h1v1h-1zM454 262h1v1h-1zM453 263h1v1h-1zM452 264h1v1h-1zM451 265h1v1h-1zM450 266h1v1h-1zM449 267h1v1h-1zM448 268h1v1h-1zM447 269h1v1h-1zM446 270h1v1h-1zM445 271h1v1h-1zM444 272h1v1h-1zM443 273h1v1h-1zM442 274h1v1h-1zM441 275h1v1h-1zM440 276h1v1h-1zM439 277h1v1h-1zM439 278h1v1h-1zM438 279h1v1h-1zM437 280h1v1h-1zM436 281h1v1h-1zM435 282h1v1h-1zM434 283h1v1h-1zM433 284h1v1h-1zM432 285h1v1h-1zM431 286h1v1h-1zM430 287h1v1h-1zM429 288h1v1h-1zM428 289h1v1h-1zM427 290h1v1h-1zM426 291h1v1h-1zM425 292h1v1h-1zM424 293h1v1h-1zM423 294h1v1h-1zM422 295h1v1h-1zM421 296h1v1h-1zM420 297h1v1h-1zM419 298h1v1h-1zM418 299h1v1h-1zM417 300h1v1h-1zM416 301h1v1h-1zM415 302h1v1h-1zM414 303h1v1h-1zM413 304h1v1h-1zM412 305h1v1h-1zM411 306h1v1h-1zM410 307h1v1h-1zM409 308h1v1h-1zM408 309h1v1h-1zM407 310h1v1h-1zM406 311h1v1h-1zM405 312h1v1h-1zM404 313h1v1h-1zM403 314h1v1h-1zM402 315h1v1h-1zM401 316h1v1h-1zM400 317h1v1h-1zM399 318h1v1h-1zM398 319h1v1h-1zM397 320h1v1h-1zM396 321h1v1h-1zM395 322h1v1h-1zM394 323h1v1h-1zM393 324h1v1h-1zM392 325h1v1h-1zM391 326h1v1h-1zM390 327h1v1h-1zM389 328h1v1h-1zM388 329h1v1h-1zM387 330h1v1h-1zM386 331h1v1h-1zM385 332h1v1h-1zM384 333h1v1h-1zM383 334h1v1h-1zM382 335h1v1h-1zM381 336h1v1h-1zM380 337h1v1h-1zM379 338h1v1h-1zM378 339h1v1h-1zM377 340h1v1h-1zM376 341h1v1h-1zM375 342h1v1h-1zM374 343h1v1h-1zM373 344h1v1h-1zM372 345h1v1h-1zM371 346h1v1h-1zM370 347h1v1h-1zM369 348h1v1h-1zM368 349h1v1h-1zM367 350h1v1h-1zM366 351h1v1h-1zM365 352h1v1h-1zM364 353h1v1h-1zM363 354h1v1h-1zM362 355h1v1h-1zM361 356h1v1h-1zM360 357h1v1h-1zM359 358h1v1h-1zM358 359h1v1h-1zM357 360h1v1h-1zM356 361h1v1h-1zM355 362h1v1h-1zM354 363h1v1h-1zM353 364h1v1h-1zM352 365h1v1h-1zM351 366h1v1h-1zM350 367h1v1h-1zM349 368h1v1h-1zM347 369h2v1h-2zM346 370h1v1h-1zM345 371h1v1h-1zM344 372h1v1h-1zM343 373h1v1h-1zM342 374h1v1h-1zM341 375h1v1h-1zM340 376h1v1h-1zM339 377h1v1h-1zM338 378h1v1h-1zM337 379h1v1h-1zM336 380h1v1h-1zM335 381h1v1h-1zM334 382h1v1h-1zM333 383h1v1h-1zM331 384h2v1h-2zM330 385h1v1h-1zM329 386h1v1h-1zM328 387h1v1h-1zM327 388h1v1h-1zM326 389h1v1h-1zM325 390h1v1h-1zM324 391h1v1h-1zM323 392h1v1h-1zM322 393h1v1h-1zM321 394h1v1h-1zM320 395h1v1h-1zM319 396h1v1h-1zM318 397h1v1h-1zM317 398h1v1h-1zM315 399h2v1h-2zM314 400h1v1h-1zM313 401h1v1h-1zM312 402h1v1h-1zM311 403h1v1h-1zM310 404h1v1h-1zM309 405h1v1h-1zM307 406h2v1h-2zM306 407h1v1h-1zM305 408h1v1h-1zM304 409h1v1h-1zM303 410h1v1h-1zM302 411h1v1h-1zM301 412h1v1h-1zM299 413h2v1h-2zM298 414h1v1h-1zM297 415h1v1h-1zM296 416h1v1h-1zM295 417h1v1h-1zM294 418h1v1h-1zM293 419h1v1h-1zM291 420h2v1h-2zM290 421h1v1h-1zM289 422h1v1h-1zM288 423h1v1h-1zM287 424h1v1h-1zM286 425h1v1h-1zM285 426h1v1h-1zM283 427h2v1h-2zM282 428h1v1h-1zM281 429h1v1h-1zM280 430h1v1h-1zM279 431h1v1h-1zM278 432h1v1h-1zM277 433h1v1h-1zM275 434h2v1h-2zM274 435h1v1h-1zM273 436h1v1h-1zM271 437h2v1h-2zM270 438h1v1h-1zM269 439h1v1h-1zM267 440h2v1h-2zM266 441h1v1h-1zM265 442h1v1h-1zM264 443h1v1h-1zM263 444h1v1h-1zM262 445h1v1h-1zM261 446h1v1h-1zM259 447h2v1h-2zM258 448h1v1h-1zM257 449h1v1h-1zM255 450h2v1h-2zM254 451h1v1h-1zM253 452h1v1h-1zM251 453h2v1h-2zM250 454h1v1h-1zM249 455h1v1h-1zM247 456h2v1h-2zM246 457h1v1h-1zM245 458h1v1h-1zM243 459h2v1h-2zM242 460h1v1h-1zM239 461h3v1h-3zM93 462h146v1h-146z"/>
<text x="631" y="74" text-anchor="end" font-family="Liberation Sans, sans-serif" font-size="14">WASP-4b</text>
<path fill="#00ff00" d="M639 69h5v1h-5zM645 69h5v1h-5zM651 69h5v1h-5zM657 69h5v1h-5zM663 69h5v1h-5zM669 69h5v1h-5zM675 69h5v1h-5z"/>
<path fill="#00ff00" d="M93 372h1v1h-1zM94 373h1v1h-1zM95 374h2v1h-2zM98 376h1v1h-1zM99 377h2v1h-2zM101 378h1v1h-1zM103 380h1v1h-1zM569 380h1v1h-1zM104 381h1v1h-1zM567 381h2v1h-2zM105 382h1v1h-1zM566 382h1v1h-1zM107 384h2v1h-2zM563 384h2v1h-2zM109 385h1v1h-1zM562 385h1v1h-1zM110 386h1v1h-1zM112 387h1v1h-1zM559 387h1v1h-1zM113 388h1v1h-1zM558 388h1v1h-1zM114 389h1v1h-1zM557 389h1v1h-1zM115 390h1v1h-1zM555 390h1v1h-1zM117 391h1v1h-1zM554 391h1v1h-1zM118 392h2v1h-2zM553 392h1v1h-1zM120 393h1v1h-1zM552 393h1v1h-1zM122 394h1v1h-1zM550 394h1v1h-1zM123 395h2v1h-2zM549 395h1v1h-1zM125 396h1v1h-1zM547 396h2v1h-2zM127 398h2v1h-2zM545 398h1v1h-1zM129 399h1v1h-1zM543 399h2v1h-2zM130 400h1v1h-1zM542 400h1v1h-1zM132 401h1v1h-1zM133 402h1v1h-1zM539 402h2v1h-2zM134 403h1v1h-1zM538 403h1v1h-1zM137 405h1v1h-1zM535 405h1v1h-1zM138 406h1v1h-1zM534 406h1v1h-1zM139 407h1v1h-1zM533 407h1v1h-1zM141 408h1v1h-1zM530 408h1v1h-1zM142 409h2v1h-2zM529 409h1v1h-1zM144 410h1v1h-1zM528 410h1v1h-1zM147 412h2v1h-2zM525 412h1v1h-1zM149 413h1v1h-1zM523 413h2v1h-2zM151 415h2v1h-2zM520 415h2v1h-2zM153 416h1v1h-1zM518 416h2v1h-2zM154 417h1v1h-1zM157 418h1v1h-1zM515 418h1v1h-1zM158 419h1v1h-1zM514 419h1v1h-1zM159 420h1v1h-1zM513 420h1v1h-1zM161 421h1v1h-1zM510 421h1v1h-1zM162 422h2v1h-2zM509 422h1v1h-1zM164 423h1v1h-1zM508 423h1v1h-1zM167 425h2v1h-2zM504 425h2v1h-2zM169 426h1v1h-1zM502 426h2v1h-2zM172 428h2v1h-2zM499 428h2v1h-2zM174 429h1v1h-1zM498 429h1v1h-1zM177 431h1v1h-1zM494 431h2v1h-2zM178 432h2v1h-2zM492 432h2v1h-2zM180 433h1v1h-1zM490 433h1v1h-1zM182 434h2v1h-2zM489 434h1v1h-1zM184 435h2v1h-2zM487 435h2v1h-2zM187 436h1v1h-1zM188 437h2v1h-2zM484 437h2v1h-2zM190 438h1v1h-1zM482 438h2v1h-2zM192 439h1v1h-1zM480 439h1v1h-1zM193 440h1v1h-1zM478 440h2v1h-2zM194 441h2v1h-2zM477 441h1v1h-1zM474 442h1v1h-1zM198 443h2v1h-2zM472 443h2v1h-2zM200 444h2v1h-2zM471 444h1v1h-1zM203 445h1v1h-1zM468 445h2v1h-2zM204 446h2v1h-2zM466 446h2v1h-2zM206 447h1v1h-1zM464 447h1v1h-1zM208 448h2v1h-2zM462 448h2v1h-2zM210 449h2v1h-2zM460 449h2v1h-2zM458 450h1v1h-1zM214 451h2v1h-2zM456 451h2v1h-2zM216 452h2v1h-2zM455 452h1v1h-1zM219 453h3v1h-3zM451 453h3v1h-3zM222 454h1v1h-1zM449 454h2v1h-2zM225 455h1v1h-1zM446 455h2v1h-2zM226 456h2v1h-2zM444 456h2v1h-2zM228 457h1v1h-1zM442 457h1v1h-1zM230 458h2v1h-2zM440 458h2v1h-2zM232 459h2v1h-2zM439 459h1v1h-1zM236 460h2v1h-2zM435 460h2v1h-2zM238 461h2v1h-2zM431 461h1v1h-1zM433 461h2v1h-2zM241 462h5v1h-5zM247 462h5v1h-5zM253 462h5v1h-5zM259 462h5v1h-5zM265 462h5v1h-5zM271 462h5v1h-5zM277 462h5v1h-5zM283 462h5v1h-5zM289 462h5v1h-5zM295 462h5v1h-5zM301 462h5v1h-5zM307 462h5v1h-5zM313 462h5v1h-5zM319 462h5v1h-5zM325 462h5v1h-5zM331 462h5v1h-5zM337 462h5v1h-5zM343 462h5v1h-5zM349 462h5v1h-5zM355 462h5v1h-5zM361 462h5v1h-5zM367 462h5v1h-5zM373 462h5v1h-5zM379 462h5v1h-5zM385 462h5v1h-5zM391 462h5v1h-5zM397 462h5v1h-5zM403 462h5v1h-5zM409 462h5v1h-5zM415 462h5v1h-5zM421 462h5v1h-5zM427 462h4v1h-4z"/>
<text x="631" y="88" text-anchor="end" font-family="Liberation Sans, sans-serif" font-size="14">WASP-5b</text>
<path fill="#0000ff" d="M639 83h3v1h-3zM644 83h3v1h-3zM649 83h3v1h-3zM654 83h3v1h-3zM659 83h3v1h-3zM664 83h3v1h-3zM669 83h3v1h-3zM674 83h3v1h-3zM679 83h1v1h-1z"/>
<path fill="#0000ff" d="M93 361h1v1h-1zM94 362h1v1h-1zM95 363h1v1h-1zM97 364h1v1h-1zM98 365h1v1h-1zM99 366h1v1h-1zM101 367h1v1h-1zM102 368h1v1h-1zM103 369h1v1h-1zM105 371h1v1h-1zM106 372h1v1h-1zM109 374h1v1h-1zM110 375h1v1h-1zM113 377h1v1h-1zM114 378h1v1h-1zM117 380h1v1h-1zM118 381h1v1h-1zM121 383h1v1h-1zM122 384h1v1h-1zM125 386h1v1h-1zM126 387h1v1h-1zM129 389h1v1h-1zM130 390h1v1h-1zM133 392h1v1h-1zM134 393h1v1h-1zM137 395h1v1h-1zM570 395h1v1h-1zM138 396h1v1h-1zM570 396h1v1h-1zM569 397h1v1h-1zM141 398h1v1h-1zM566 398h2v1h-2zM142 399h1v1h-1zM565 399h1v1h-1zM145 401h1v1h-1zM562 401h1v1h-1zM146 402h1v1h-1zM561 402h1v1h-1zM149 404h1v1h-1zM558 404h1v1h-1zM150 405h1v1h-1zM557 405h1v1h-1zM153 407h1v1h-1zM554 407h1v1h-1zM154 408h1v1h-1zM553 408h1v1h-1zM157 410h1v1h-1zM550 410h1v1h-1zM158 411h2v1h-2zM549 411h1v1h-1zM161 412h1v1h-1zM162 413h1v1h-1zM546 413h1v1h-1zM163 414h1v1h-1zM545 414h1v1h-1zM165 415h1v1h-1zM542 415h1v1h-1zM166 416h1v1h-1zM541 416h1v1h-1zM167 417h1v1h-1zM169 418h1v1h-1zM538 418h1v1h-1zM170 419h1v1h-1zM537 419h1v1h-1zM171 420h1v1h-1zM173 421h1v1h-1zM534 421h1v1h-1zM174 422h2v1h-2zM533 422h1v1h-1zM530 423h1v1h-1zM178 424h1v1h-1zM529 424h1v1h-1zM179 425h1v1h-1zM528 425h1v1h-1zM526 426h1v1h-1zM182 427h2v1h-2zM524 427h2v1h-2zM184 428h1v1h-1zM186 429h1v1h-1zM521 429h1v1h-1zM187 430h2v1h-2zM520 430h1v1h-1zM190 432h2v1h-2zM516 432h2v1h-2zM192 433h1v1h-1zM195 434h1v1h-1zM512 434h2v1h-2zM196 435h1v1h-1zM511 435h1v1h-1zM199 437h2v1h-2zM507 437h2v1h-2zM203 439h1v1h-1zM504 439h1v1h-1zM204 440h2v1h-2zM503 440h1v1h-1zM500 441h1v1h-1zM208 442h2v1h-2zM498 442h2v1h-2zM212 444h2v1h-2zM494 444h2v1h-2zM214 445h1v1h-1zM216 446h1v1h-1zM490 446h2v1h-2zM217 447h1v1h-1zM489 447h1v1h-1zM218 448h1v1h-1zM486 448h1v1h-1zM221 449h1v1h-1zM485 449h1v1h-1zM222 450h1v1h-1zM482 450h1v1h-1zM225 451h1v1h-1zM480 451h2v1h-2zM226 452h2v1h-2zM478 452h1v1h-1zM476 453h2v1h-2zM230 454h2v1h-2zM234 455h1v1h-1zM472 455h2v1h-2zM235 456h2v1h-2zM471 456h1v1h-1zM239 457h1v1h-1zM468 457h2v1h-2zM240 458h2v1h-2zM467 458h1v1h-1zM243 459h1v1h-1zM464 459h1v1h-1zM244 460h2v1h-2zM462 460h2v1h-2zM459 461h2v1h-2zM248 462h3v1h-3zM253 462h3v1h-3zM258 462h3v1h-3zM263 462h3v1h-3zM268 462h3v1h-3zM273 462h3v1h-3zM278 462h3v1h-3zM283 462h3v1h-3zM288 462h3v1h-3zM293 462h3v1h-3zM298 462h3v1h-3zM303 462h3v1h-3zM308 462h3v1h-3zM313 462h3v1h-3zM318 462h3v1h-3zM323 462h3v1h-3zM328 462h3v1h-3zM333 462h3v1h-3zM338 462h3v1h-3zM343 462h3v1h-3zM348 462h3v1h-3zM353 462h3v1h-3zM358 462h3v1h-3zM363 462h3v1h-3zM368 462h3v1h-3zM373 462h3v1h-3zM378 462h3v1h-3zM383 462h3v1h-3zM388 462h3v1h-3zM393 462h3v1h-3zM398 462h3v1h-3zM403 462h3v1h-3zM408 462h3v1h-3zM413 462h3v1h-3zM418 462h3v1h-3zM423 462h3v1h-3zM428 462h3v1h-3zM433 462h3v1h-3zM438 462h3v1h-3zM443 462h3v1h-3zM448 462h3v1h-3zM453 462h3v1h-3zM458 462h1v1h-1z"/>
<text x="631" y="102" text-anchor="end" font-family="Liberation Sans, sans-serif" font-size="14">WASP-16b</text>
<path fill="#ff00ff" d="M639 97h1v1h-1zM642 97h1v1h-1zM644 97h1v1h-1zM647 97h1v1h-1zM649 97h1v1h-1zM652 97h1v1h-1zM654 97h1v1h-1zM657 97h1v1h-1zM659 97h1v1h-1zM662 97h1v1h-1zM664 97h1v1h-1zM667 97h1v1h-1zM669 97h1v1h-1zM672 97h1v1h-1zM674 97h1v1h-1zM677 97h1v1h-1zM679 97h1v1h-1z"/>
<path fill="#ff00ff" d="M463 151h1v1h-1zM466 151h1v1h-1zM468 151h1v1h-1zM471 151h1v1h-1zM473 151h1v1h-1zM456 152h1v1h-1zM458 152h1v1h-1zM461 152h1v1h-1zM476 152h1v1h-1zM478 152h1v1h-1zM481 152h1v1h-1zM451 153h1v1h-1zM453 153h1v1h-1zM483 153h1v1h-1zM485 153h1v1h-1zM449 154h1v1h-1zM488 154h1v1h-1zM490 154h1v1h-1zM444 155h1v1h-1zM446 155h1v1h-1zM493 155h1v1h-1zM439 156h1v1h-1zM441 156h1v1h-1zM495 156h1v1h-1zM437 157h1v1h-1zM497 157h1v1h-1zM434 158h1v1h-1zM500 158h1v1h-1zM432 159h1v1h-1zM502 159h1v1h-1zM430 160h1v1h-1zM504 160h1v1h-1zM428 161h1v1h-1zM507 161h1v1h-1zM509 162h1v1h-1zM425 163h1v1h-1zM511 163h1v1h-1zM423 164h1v1h-1zM513 164h1v1h-1zM421 165h1v1h-1zM515 165h1v1h-1zM419 166h1v1h-1zM518 167h1v1h-1zM416 168h1v1h-1zM520 168h1v1h-1zM414 169h1v1h-1zM522 169h1v1h-1zM412 170h1v1h-1zM524 170h1v1h-1zM410 171h1v1h-1zM526 172h1v1h-1zM408 173h1v1h-1zM528 173h1v1h-1zM406 174h1v1h-1zM530 174h1v1h-1zM532 175h1v1h-1zM404 176h1v1h-1zM402 177h1v1h-1zM534 177h1v1h-1zM400 178h1v1h-1zM536 178h1v1h-1zM398 179h1v1h-1zM538 180h1v1h-1zM396 181h1v1h-1zM540 181h1v1h-1zM394 182h1v1h-1zM542 183h1v1h-1zM392 184h1v1h-1zM544 184h1v1h-1zM390 186h1v1h-1zM546 186h1v1h-1zM548 187h1v1h-1zM388 188h1v1h-1zM386 189h1v1h-1zM550 189h1v1h-1zM552 190h1v1h-1zM384 191h1v1h-1zM382 192h1v1h-1zM554 192h1v1h-1zM380 194h1v1h-1zM556 194h1v1h-1zM378 195h1v1h-1zM558 196h1v1h-1zM376 197h1v1h-1zM560 197h1v1h-1zM374 199h1v1h-1zM562 199h1v1h-1zM373 200h1v1h-1zM564 200h1v1h-1zM371 201h1v1h-1zM566 202h1v1h-1zM369 203h1v1h-1zM568 204h1v1h-1zM367 205h1v1h-1zM569 205h1v1h-1zM365 207h1v1h-1zM363 208h1v1h-1zM361 210h1v1h-1zM359 212h1v1h-1zM358 213h1v1h-1zM356 215h1v1h-1zM354 217h1v1h-1zM352 219h1v1h-1zM350 220h1v1h-1zM348 222h1v1h-1zM347 223h1v1h-1zM345 225h1v1h-1zM343 227h1v1h-1zM341 229h1v1h-1zM340 230h1v1h-1zM338 232h1v1h-1zM336 234h1v1h-1zM334 236h1v1h-1zM332 238h1v1h-1zM331 239h1v1h-1zM329 241h1v1h-1zM327 242h1v1h-1zM325 244h1v1h-1zM323 246h1v1h-1zM321 248h1v1h-1zM320 249h1v1h-1zM318 251h1v1h-1zM316 253h1v1h-1zM314 255h1v1h-1zM313 256h1v1h-1zM311 258h1v1h-1zM309 260h1v1h-1zM307 262h1v1h-1zM306 264h1v1h-1zM304 266h1v1h-1zM302 268h1v1h-1zM301 269h1v1h-1zM299 271h1v1h-1zM297 273h1v1h-1zM295 275h1v1h-1zM294 276h1v1h-1zM292 278h1v1h-1zM290 280h1v1h-1zM288 282h1v1h-1zM287 283h1v1h-1zM285 285h1v1h-1zM283 287h1v1h-1zM281 289h1v1h-1zM279 291h1v1h-1zM278 292h1v1h-1zM276 294h1v1h-1zM274 296h1v1h-1zM272 298h1v1h-1zM271 300h1v1h-1zM269 302h1v1h-1zM268 303h1v1h-1zM266 305h1v1h-1zM264 307h1v1h-1zM262 309h1v1h-1zM261 310h1v1h-1zM259 312h1v1h-1zM257 314h1v1h-1zM255 316h1v1h-1zM253 318h1v1h-1zM252 319h1v1h-1zM250 321h1v1h-1zM248 323h1v1h-1zM246 325h1v1h-1zM245 326h1v1h-1zM243 328h1v1h-1zM242 330h1v1h-1zM240 332h1v1h-1zM238 334h1v1h-1zM236 336h1v1h-1zM235 337h1v1h-1zM233 339h1v1h-1zM231 341h1v1h-1zM229 343h1v1h-1zM227 345h1v1h-1zM226 346h1v1h-1zM224 348h1v1h-1zM222 350h1v1h-1zM220 352h1v1h-1zM219 354h1v1h-1zM217 356h1v1h-1zM216 357h1v1h-1zM214 359h1v1h-1zM212 361h1v1h-1zM210 363h1v1h-1zM209 364h1v1h-1zM207 366h1v1h-1zM205 368h1v1h-1zM203 370h1v1h-1zM201 372h1v1h-1zM200 373h1v1h-1zM198 375h1v1h-1zM196 377h1v1h-1zM194 379h1v1h-1zM193 380h1v1h-1zM191 382h1v1h-1zM189 384h1v1h-1zM187 386h1v1h-1zM186 387h1v1h-1zM184 389h1v1h-1zM182 391h1v1h-1zM180 393h1v1h-1zM179 394h1v1h-1zM177 396h1v1h-1zM175 398h1v1h-1zM173 400h1v1h-1zM171 402h1v1h-1zM170 403h1v1h-1zM168 405h1v1h-1zM166 407h1v1h-1zM164 409h1v1h-1zM163 410h1v1h-1zM161 412h1v1h-1zM159 414h1v1h-1zM157 416h1v1h-1zM156 417h1v1h-1zM154 419h1v1h-1zM152 421h1v1h-1zM150 423h1v1h-1zM148 425h1v1h-1zM147 426h1v1h-1zM145 428h1v1h-1zM143 430h1v1h-1zM141 432h1v1h-1zM140 433h1v1h-1zM138 435h1v1h-1zM136 437h1v1h-1zM134 439h1v1h-1zM132 441h1v1h-1zM130 442h1v1h-1zM129 443h1v1h-1zM127 445h1v1h-1zM125 447h1v1h-1zM123 449h1v1h-1zM121 451h1v1h-1zM120 452h1v1h-1zM118 454h1v1h-1zM116 456h1v1h-1zM114 457h1v1h-1zM112 459h1v1h-1zM110 461h1v1h-1zM93 462h1v1h-1zM96 462h1v1h-1zM98 462h1v1h-1zM101 462h1v1h-1zM103 462h1v1h-1zM106 462h1v1h-1zM108 462h1v1h-1z"/>
<text x="631" y="116" text-anchor="end" font-family="Liberation Sans, sans-serif" font-size="14">WASP-17b</text>
<path fill="#00ffff" d="M639 111h6v1h-6zM647 111h1v1h-1zM649 111h6v1h-6zM657 111h1v1h-1zM659 111h6v1h-6zM667 111h1v1h-1zM669 111h6v1h-6zM677 111h1v1h-1zM679 111h1v1h-1z"/>
<path fill="#00ffff" d="M545 116h1v1h-1zM547 116h6v1h-6zM555 116h1v1h-1zM557 116h2v1h-2zM539 117h4v1h-4zM559 117h4v1h-4zM535 118h1v1h-1zM538 118h1v1h-1zM565 118h1v1h-1zM531 119h3v1h-3zM567 119h4v1h-4zM528 120h3v1h-3zM526 121h1v1h-1zM523 122h1v1h-1zM521 123h2v1h-2zM519 124h2v1h-2zM517 126h1v1h-1zM514 127h2v1h-2zM512 128h2v1h-2zM510 129h2v1h-2zM508 131h1v1h-1zM506 132h1v1h-1zM505 133h1v1h-1zM503 134h2v1h-2zM502 135h1v1h-1zM500 136h1v1h-1zM498 137h1v1h-1zM497 138h1v1h-1zM495 139h2v1h-2zM494 140h1v1h-1zM492 142h1v1h-1zM490 144h1v1h-1zM489 145h1v1h-1zM487 146h2v1h-2zM486 147h1v1h-1zM484 149h1v1h-1zM482 150h1v1h-1zM481 151h1v1h-1zM480 152h1v1h-1zM479 153h1v1h-1zM477 155h1v1h-1zM475 156h1v1h-1zM474 157h1v1h-1zM473 158h1v1h-1zM472 159h1v1h-1zM471 160h1v1h-1zM469 162h1v1h-1zM467 163h1v1h-1zM466 164h1v1h-1zM465 165h1v1h-1zM464 166h1v1h-1zM462 168h1v1h-1zM460 170h1v1h-1zM459 171h1v1h-1zM458 172h1v1h-1zM457 173h1v1h-1zM456 174h1v1h-1zM454 175h1v1h-1zM452 177h1v1h-1zM451 178h1v1h-1zM450 179h1v1h-1zM449 180h1v1h-1zM447 182h1v1h-1zM445 184h1v1h-1zM444 185h1v1h-1zM443 186h1v1h-1zM442 187h1v1h-1zM440 189h1v1h-1zM438 191h1v1h-1zM437 192h1v1h-1zM436 193h1v1h-1zM435 194h1v1h-1zM433 196h1v1h-1zM431 198h1v1h-1zM430 199h1v1h-1zM429 200h1v1h-1zM428 201h1v1h-1zM426 203h1v1h-1zM424 205h1v1h-1zM423 206h1v1h-1zM422 207h1v1h-1zM421 208h1v1h-1zM419 210h1v1h-1zM417 212h1v1h-1zM416 213h1v1h-1zM415 214h1v1h-1zM414 215h1v1h-1zM412 217h1v1h-1zM410 219h1v1h-1zM409 220h1v1h-1zM408 221h1v1h-1zM407 222h1v1h-1zM405 224h1v1h-1zM403 226h1v1h-1zM402 227h1v1h-1zM401 228h1v1h-1zM400 229h1v1h-1zM399 230h1v1h-1zM398 231h1v1h-1zM396 233h1v1h-1zM395 234h1v1h-1zM395 235h1v1h-1zM394 236h1v1h-1zM393 237h1v1h-1zM391 239h1v1h-1zM389 241h1v1h-1zM388 242h1v1h-1zM387 243h1v1h-1zM386 244h1v1h-1zM384 246h1v1h-1zM382 248h1v1h-1zM381 249h1v1h-1zM380 250h1v1h-1zM379 251h1v1h-1zM377 253h1v1h-1zM375 255h1v1h-1zM374 256h1v1h-1zM373 257h1v1h-1zM372 258h1v1h-1zM370 260h1v1h-1zM368 262h1v1h-1zM367 263h1v1h-1zM367 264h1v1h-1zM366 265h1v1h-1zM365 266h1v1h-1zM363 268h1v1h-1zM361 270h1v1h-1zM360 271h1v1h-1zM359 272h1v1h-1zM358 273h1v1h-1zM356 275h1v1h-1zM354 277h1v1h-1zM353 278h1v1h-1zM352 279h1v1h-1zM351 280h1v1h-1zM349 282h1v1h-1zM347 284h1v1h-1zM346 285h1v1h-1zM345 286h1v1h-1zM344 287h1v1h-1zM342 289h1v1h-1zM340 291h1v1h-1zM339 292h1v1h-1zM339 293h1v1h-1zM338 294h1v1h-1zM337 295h1v1h-1zM335 297h1v1h-1zM334 298h1v1h-1zM333 299h1v1h-1zM332 300h1v1h-1zM331 301h1v1h-1zM330 302h1v1h-1zM328 304h1v1h-1zM326 306h1v1h-1zM325 307h1v1h-1zM324 308h1v1h-1zM323 309h1v1h-1zM321 311h1v1h-1zM319 313h1v1h-1zM318 314h1v1h-1zM317 315h1v1h-1zM316 316h1v1h-1zM314 318h1v1h-1zM312 320h1v1h-1zM311 321h1v1h-1zM310 322h1v1h-1zM309 323h1v1h-1zM307 325h1v1h-1zM305 327h1v1h-1zM304 328h1v1h-1zM303 329h1v1h-1zM302 330h1v1h-1zM300 332h1v1h-1zM298 334h1v1h-1zM297 335h1v1h-1zM296 336h1v1h-1zM295 337h1v1h-1zM293 339h1v1h-1zM291 341h1v1h-1zM290 342h1v1h-1zM289 343h1v1h-1zM288 344h1v1h-1zM286 346h1v1h-1zM284 348h1v1h-1zM283 349h1v1h-1zM282 350h1v1h-1zM281 351h1v1h-1zM279 353h1v1h-1zM277 355h1v1h-1zM276 356h1v1h-1zM275 357h1v1h-1zM274 358h1v1h-1zM272 360h1v1h-1zM270 362h1v1h-1zM269 363h1v1h-1zM268 364h1v1h-1zM267 365h1v1h-1zM265 367h1v1h-1zM263 369h1v1h-1zM262 370h1v1h-1zM261 371h1v1h-1zM260 372h1v1h-1zM258 374h1v1h-1zM256 376h1v1h-1zM255 377h1v1h-1zM254 378h1v1h-1zM253 379h1v1h-1zM251 381h1v1h-1zM249 383h1v1h-1zM247 384h2v1h-2zM246 385h1v1h-1zM245 386h1v1h-1zM243 388h1v1h-1zM241 390h1v1h-1zM240 391h1v1h-1zM239 392h1v1h-1zM238 393h1v1h-1zM236 395h1v1h-1zM234 397h1v1h-1zM233 398h1v1h-1zM231 399h2v1h-2zM228 402h1v1h-1zM227 403h1v1h-1zM226 404h1v1h-1zM225 405h1v1h-1zM224 406h1v1h-1zM223 407h1v1h-1zM221 409h1v1h-1zM219 410h1v1h-1zM218 411h1v1h-1zM217 412h1v1h-1zM216 413h1v1h-1zM214 415h1v1h-1zM212 417h1v1h-1zM211 418h1v1h-1zM210 419h1v1h-1zM209 420h1v1h-1zM207 421h1v1h-1zM204 424h1v1h-1zM203 425h1v1h-1zM202 426h1v1h-1zM201 427h1v1h-1zM199 428h1v1h-1zM197 430h1v1h-1zM196 431h1v1h-1zM195 432h1v1h-1zM194 433h1v1h-1zM192 435h1v1h-1zM189 437h1v1h-1zM187 438h2v1h-2zM186 439h1v1h-1zM184 441h1v1h-1zM182 443h1v1h-1zM181 444h1v1h-1zM179 445h2v1h-2zM178 446h1v1h-1zM176 448h1v1h-1zM174 449h1v1h-1zM173 450h1v1h-1zM172 451h1v1h-1zM171 452h1v1h-1zM169 454h1v1h-1zM167 455h1v1h-1zM166 456h1v1h-1zM165 457h1v1h-1zM163 458h2v1h-2zM161 460h1v1h-1zM158 461h1v1h-1zM93 462h6v1h-6zM101 462h1v1h-1zM103 462h6v1h-6zM111 462h1v1h-1zM113 462h6v1h-6zM121 462h1v1h-1zM123 462h6v1h-6zM131 462h1v1h-1zM133 462h6v1h-6zM141 462h1v1h-1zM143 462h6v1h-6zM151 462h1v1h-1zM153 462h5v1h-5z"/>
<text x="631" y="130" text-anchor="end" font-family="Liberation Sans, sans-serif" font-size="14">Transit Time</text>
<path fill="#00ffff" d="M656 124h7v3h-7zM658 122h3v7h-3z"/>
<path fill="#00ffff" d="M541 113h20v1h-20zM536 114h30v1h-30zM532 115h38v1h-38zM529 116h44v1h-44zM527 117h48v1h-48zM524 118h54v1h-54zM522 119h58v1h-58zM520 120h24v1h-24zM558 120h24v1h-24zM518 121h21v1h-21zM563 121h21v1h-21zM516 122h19v1h-19zM567 122h19v1h-19zM514 123h18v1h-18zM570 123h18v1h-18zM512 124h17v1h-17zM573 124h17v1h-17zM511 125h16v1h-16zM575 125h16v1h-16zM509 126h16v1h-16zM577 126h16v1h-16zM507 127h15v1h-15zM579 127h16v1h-16zM506 128h14v1h-14zM581 128h15v1h-15zM504 129h15v1h-15zM583 129h15v1h-15zM503 130h14v1h-14zM585 130h14v1h-14zM501 131h14v1h-14zM587 131h14v1h-14zM500 132h13v1h-13zM589 132h13v1h-13zM498 133h14v1h-14zM590 133h14v1h-14zM497 134h13v1h-13zM592 134h13v1h-13zM496 135h12v1h-12zM593 135h13v1h-13zM494 136h13v1h-13zM595 136h13v1h-13zM493 137h12v1h-12zM596 137h13v1h-13zM492 138h12v1h-12zM598 138h12v1h-12zM490 139h13v1h-13zM599 139h13v1h-13zM489 140h12v1h-12zM601 140h12v1h-12zM488 141h12v1h-12zM602 141h12v1h-12zM487 142h11v1h-11zM604 142h11v1h-11zM485 143h12v1h-12zM605 143h12v1h-12zM484 144h12v1h-12zM606 144h12v1h-12zM483 145h11v1h-11zM607 145h12v1h-12zM482 146h11v1h-11zM609 146h11v1h-11zM481 147h11v1h-11zM610 147h11v1h-11zM480 148h11v1h-11zM611 148h12v1h-12zM479 149h10v1h-10zM613 149h11v1h-11zM478 150h10v1h-10zM614 150h11v1h-11zM478 151h9v1h-9zM615 151h11v1h-11zM478 152h8v1h-8zM616 152h11v1h-11zM480 153h4v1h-4zM617 153h11v1h-11zM480 154h3v1h-3zM619 154h11v1h-11zM620 155h11v1h-11zM621 156h11v1h-11zM622 157h11v1h-11zM623 158h11v1h-11zM625 159h10v1h-10zM626 160h10v1h-10zM627 161h10v1h-10zM628 162h10v1h-10zM629 163h11v1h-11zM630 164h11v1h-11zM631 165h11v1h-11zM632 166h11v1h-11zM634 167h10v1h-10zM635 168h10v1h-10zM636 169h10v1h-10zM637 170h10v1h-10zM638 171h10v1h-10zM639 172h10v1h-10zM640 173h10v1h-10zM641 174h10v1h-10zM642 175h10v1h-10zM643 176h10v1h-10zM644 177h10v1h-10zM645 178h10v1h-10zM646 179h10v1h-10zM647 180h10v1h-10zM649 181h9v1h-9zM650 182h8v1h-8zM651 183h7v1h-7zM652 184h4v1h-4zM653 185h3v1h-3z"/>
<text x="631" y="144" text-anchor="end" font-family="Liberation Sans, sans-serif" font-size="14">WASP-18b</text>
<path fill="#ffff00" d="M639 139h5v1h-5zM647 139h1v1h-1zM650 139h5v1h-5zM658 139h1v1h-1zM661 139h5v1h-5zM669 139h1v1h-1zM672 139h5v1h-5z"/>
<path fill="#ffff00" d="M93 278h1v1h-1zM94 279h1v1h-1zM95 280h1v1h-1zM96 281h1v1h-1zM99 284h1v1h-1zM102 286h1v1h-1zM103 287h1v1h-1zM104 288h1v1h-1zM107 291h1v1h-1zM110 293h1v1h-1zM111 294h1v1h-1zM112 295h1v1h-1zM113 296h1v1h-1zM115 298h1v1h-1zM118 300h1v1h-1zM119 301h1v1h-1zM120 302h1v1h-1zM121 303h1v1h-1zM124 305h1v1h-1zM126 307h1v1h-1zM127 308h1v1h-1zM128 309h1v1h-1zM129 310h1v1h-1zM132 312h1v1h-1zM135 315h1v1h-1zM136 316h1v1h-1zM137 317h1v1h-1zM140 319h1v1h-1zM143 322h2v1h-2zM145 323h1v1h-1zM146 324h1v1h-1zM149 327h1v1h-1zM151 329h2v1h-2zM153 330h1v1h-1zM154 331h1v1h-1zM157 333h1v1h-1zM160 336h1v1h-1zM161 337h1v1h-1zM162 338h1v1h-1zM163 339h1v1h-1zM166 341h1v1h-1zM168 342h1v1h-1zM169 343h1v1h-1zM170 344h1v1h-1zM171 345h1v1h-1zM174 347h1v1h-1zM177 349h1v1h-1zM178 350h1v1h-1zM179 351h2v1h-2zM183 354h1v1h-1zM186 356h1v1h-1zM187 357h2v1h-2zM189 358h1v1h-1zM192 361h1v1h-1zM194 363h1v1h-1zM195 364h2v1h-2zM197 365h1v1h-1zM201 367h1v1h-1zM204 369h1v1h-1zM205 370h1v1h-1zM206 371h1v1h-1zM207 372h1v1h-1zM209 373h1v1h-1zM212 375h1v1h-1zM213 376h1v1h-1zM214 377h1v1h-1zM215 378h1v1h-1zM218 380h1v1h-1zM221 382h1v1h-1zM222 383h1v1h-1zM223 384h2v1h-2zM227 386h1v1h-1zM230 388h1v1h-1zM231 389h2v1h-2zM233 390h1v1h-1zM236 392h1v1h-1zM239 394h1v1h-1zM240 395h2v1h-2zM242 396h1v1h-1zM243 397h1v1h-1zM246 399h1v1h-1zM249 400h1v1h-1zM250 401h1v1h-1zM251 402h2v1h-2zM255 404h1v1h-1zM258 406h1v1h-1zM259 407h2v1h-2zM261 408h1v1h-1zM264 410h1v1h-1zM268 412h2v1h-2zM270 413h1v1h-1zM271 414h1v1h-1zM274 416h1v1h-1zM277 417h1v1h-1zM278 418h2v1h-2zM280 419h1v1h-1zM284 421h1v1h-1zM287 422h1v1h-1zM288 423h2v1h-2zM290 424h1v1h-1zM293 425h1v1h-1zM297 427h1v1h-1zM298 428h2v1h-2zM300 429h1v1h-1zM570 429h1v1h-1zM303 430h1v1h-1zM567 431h1v1h-1zM306 432h2v1h-2zM564 432h1v1h-1zM308 433h2v1h-2zM562 433h2v1h-2zM310 434h1v1h-1zM560 434h2v1h-2zM313 435h1v1h-1zM557 435h1v1h-1zM554 436h1v1h-1zM316 437h3v1h-3zM552 437h2v1h-2zM319 438h2v1h-2zM550 438h2v1h-2zM323 439h1v1h-1zM547 439h1v1h-1zM326 441h2v1h-2zM542 441h2v1h-2zM328 442h3v1h-3zM540 442h2v1h-2zM333 443h1v1h-1zM537 444h1v1h-1zM337 445h2v1h-2zM531 445h3v1h-3zM339 446h2v1h-2zM529 446h2v1h-2zM526 447h1v1h-1zM344 448h1v1h-1zM523 448h1v1h-1zM347 449h4v1h-4zM519 449h4v1h-4zM351 450h1v1h-1zM354 450h1v1h-1zM516 450h1v1h-1zM357 451h1v1h-1zM358 452h2v1h-2zM511 452h3v1h-3zM360 453h2v1h-2zM509 453h2v1h-2zM364 454h1v1h-1zM505 454h1v1h-1zM368 455h3v1h-3zM499 455h4v1h-4zM371 456h2v1h-2zM495 456h1v1h-1zM498 456h1v1h-1zM375 457h1v1h-1zM378 457h5v1h-5zM491 457h1v1h-1zM386 458h1v1h-1zM484 458h1v1h-1zM487 458h4v1h-4zM389 459h2v1h-2zM479 459h3v1h-3zM391 460h3v1h-3zM397 460h1v1h-1zM473 460h1v1h-1zM477 460h2v1h-2zM400 461h5v1h-5zM467 461h4v1h-4zM407 462h1v1h-1zM411 462h5v1h-5zM418 462h1v1h-1zM422 462h5v1h-5zM429 462h1v1h-1zM433 462h5v1h-5zM440 462h1v1h-1zM444 462h5v1h-5zM451 462h1v1h-1zM455 462h5v1h-5zM462 462h1v1h-1zM466 462h1v1h-1z"/>
<text x="631" y="158" text-anchor="end" font-family="Liberation Sans, sans-serif" font-size="14">Transit Time</text>
<path fill="#ffff00" d="M655 149h2v1h-2zM661 149h2v1h-2zM655 150h3v1h-3zM660 150h3v1h-3zM656 151h6v1h-6zM657 152h4v1h-4zM657 153h4v1h-4zM656 154h6v1h-6zM655 155h3v1h-3zM660 155h3v1h-3zM655 156h2v1h-2zM661 156h2v1h-2z"/>
<path fill="#ffff00" d="M559 428h4v1h-4zM565 428h4v1h-4zM557 429h12v1h-12zM555 430h13v1h-13zM552 431h15v1h-15zM550 432h17v1h-17zM548 433h20v1h-20zM545 434h24v1h-24zM543 435h26v1h-26zM541 436h26v1h-26zM538 437h27v1h-27zM536 438h26v1h-26zM533 439h27v1h-27zM530 440h28v1h-28zM528 441h28v1h-28zM525 442h28v1h-28zM522 443h29v1h-29zM519 444h29v1h-29zM516 445h30v1h-30zM513 446h30v1h-30zM509 447h32v1h-32zM506 448h32v1h-32zM502 449h33v1h-33zM498 450h34v1h-34zM494 451h36v1h-36zM490 452h37v1h-37zM486 453h38v1h-38zM481 454h39v1h-39zM475 455h42v1h-42zM469 456h45v1h-45zM463 457h47v1h-47zM463 458h43v1h-43zM464 459h38v1h-38zM465 460h33v1h-33zM465 461h28v1h-28zM464 462h24v1h-24zM463 463h20v1h-20zM463 464h13v1h-13z"/>
<text x="631" y="172" text-anchor="end" font-family="Liberation Sans, sans-serif" font-size="14">horizontial limit</text>
<path fill="#000" d="M639 167h41v1h-41z"/>
<path fill="#000" d="M93 368h562v1h-562z"/>
<path fill="#000" d="M62 41h635v2h-635zM62 461h635v2h-635zM62 41h2v422h-2zM695 41h2v422h-2z"/>
<text x="55" y="466" text-anchor="end" font-family="Liberation Sans, sans-serif" font-size="14">0</text>
<text x="55" y="419" text-anchor="end" font-family="Liberation Sans, sans-serif" font-size="14">10</text>
<text x="55" y="372" text-anchor="end" font-family="Liberation Sans, sans-serif" font-size="14">20</text>
<text x="55" y="326" text-anchor="end" font-family="Liberation Sans, sans-serif" font-size="14">30</text>
<text x="55" y="279" text-anchor="end" font-family="Liberation Sans, sans-serif" font-size="14">40</text>
<text x="55" y="232" text-anchor="end" font-family="Liberation Sans, sans-serif" font-size="14">50</text>
<text x="55" y="186" text-anchor="end" font-family="Liberation Sans, sans-serif" font-size="14">60</text>
<text x="55" y="139" text-anchor="end" font-family="Liberation Sans, sans-serif" font-size="14">70</text>
<text x="55" y="92" text-anchor="end" font-family="Liberation Sans, sans-serif" font-size="14">80</text>
<text x="55" y="46" text-anchor="end" font-family="Liberation Sans, sans-serif" font-size="14">90</text>
<text x="62.5" y="480" text-anchor="middle" font-family="Liberation Sans, sans-serif" font-size="14">03/01</text>
<text x="62.5" y="494" text-anchor="middle" font-family="Liberation Sans, sans-serif" font-size="14">20:00</text>
<text x="111.5" y="480" text-anchor="middle" font-family="Liberation Sans, sans-serif" font-size="14">03/01</text>
<text x="111.5" y="494" text-anchor="middle" font-family="Liberation Sans, sans-serif" font-size="14">21:00</text>
<text x="160.5" y="480" text-anchor="middle" font-family="Liberation Sans, sans-serif" font-size="14">03/01</text>
<text x="160.5" y="494" text-anchor="middle" font-family="Liberation Sans, sans-serif" font-size="14">22:00</text>
<text x="209.5" y="480" text-anchor="middle" font-family="Liberation Sans, sans-serif" font-size="14">03/01</text>
<text x="209.5" y="494" text-anchor="middle" font-family="Liberation Sans, sans-serif" font-size="14">23:00</text>
<text x="257.5" y="480" text-anchor="middle" font-family="Liberation Sans, sans-serif" font-size="14">03/02</text>
<text x="257.5" y="494" text-anchor="middle" font-family="Liberation Sans, sans-serif" font-size="14">00:00</text>
<text x="306.5" y="480" text-anchor="middle" font-family="Liberation Sans, sans-serif" font-size="14">03/02</text>
<text x="306.5" y="494" text-anchor="middle" font-family="Liberation Sans, sans-serif" font-size="14">01:00</text>
<text x="355.5" y="480" text-anchor="middle" font-family="Liberation Sans, sans-serif" font-size="14">03/02</text>
<text x="355.5" y="494" text-anchor="middle" font-family="Liberation Sans, sans-serif" font-size="14">02:00</text>
<text x="403.5" y="480" text-anchor="middle" font-family="Liberation Sans, sans-serif" font-size="14">03/02</text>
<text x="403.5" y="494" text-anchor="middle" font-family="Liberation Sans, sans-serif" font-size="14">03:00</text>
<text x="452.5" y="480" text-anchor="middle" font-family="Liberation Sans, sans-serif" font-size="14">03/02</text>
<text x="452.5" y="494" text-anchor="middle" font-family="Liberation Sans, sans-serif" font-size="14">04:00</text>
<text x="501.5" y="480" text-anchor="middle" font-family="Liberation Sans, sans-serif" font-size="14">03/02</text>
<text x="501.5" y="494" text-anchor="middle" font-family="Liberation Sans, sans-serif" font-size="14">05:00</text>
<text x="550.5" y="480" text-anchor="middle" font-family="Liberation Sans, sans-serif" font-size="14">03/02</text>
<text x="550.5" y="494" text-anchor="middle" font-family="Liberation Sans, sans-serif" font-size="14">06:00</text>
<text x="598.5" y="480" text-anchor="middle" font-family="Liberation Sans, sans-serif" font-size="14">03/02</text>
<text x="598.5" y="494" text-anchor="middle" font-family="Liberation Sans, sans-serif" font-size="14">07:00</text>
<text x="647.5" y="480" text-anchor="middle" font-family="Liberation Sans, sans-serif" font-size="14">03/02</text>
<text x="647.5" y="494" text-anchor="middle" font-family="Liberation Sans, sans-serif" font-size="14">08:00</text>
<text x="696.5" y="480" text-anchor="middle" font-family="Liberation Sans, sans-serif" font-size="14">03/02</text>
<text x="696.5" y="494" text-anchor="middle" font-family="Liberation Sans, sans-serif" font-size="14">09:00</text>
<text x="380" y="25" text-anchor="middle" font-family="Liberation Sans, sans-serif" font-size="14">Transit Time Prediction</text>
<text x="379.5" y="501" text-anchor="middle" font-family="Liberation Sans, sans-serif" font-size="14">NZST</text>
<text transform="translate(20 251.5) rotate(-90)" text-anchor="middle" text-rendering="geometricPrecision" font-family="Liberation Sans, sans-serif" font-size="14">Altitude</text>
</svg></body></html>
